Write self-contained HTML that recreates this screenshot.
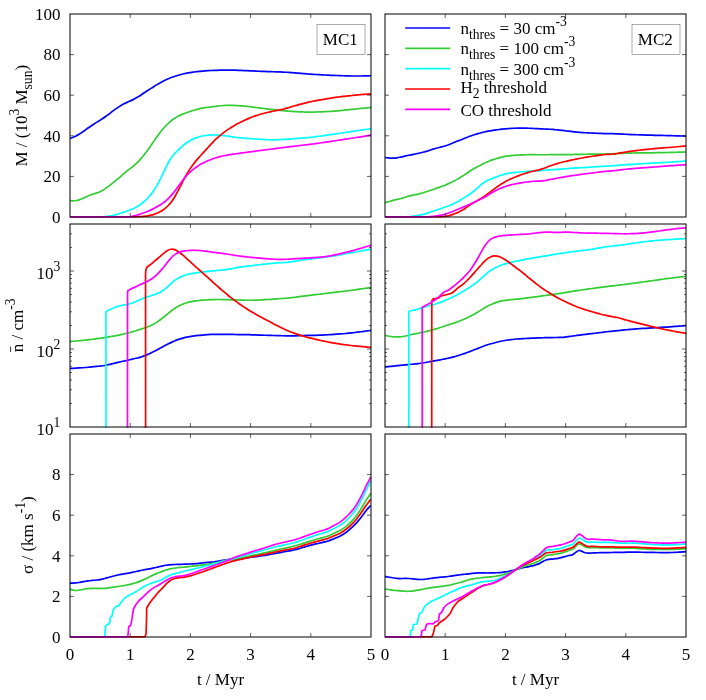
<!DOCTYPE html>
<html><head><meta charset="utf-8"><title>fig</title><style>html,body{margin:0;padding:0;background:#fff}svg{display:block}</style></head><body><svg width="706" height="700" viewBox="0 0 706 700">
<defs>
<clipPath id="c00"><rect x="69.5" y="13.5" width="302" height="204.3"/></clipPath>
<clipPath id="c10"><rect x="69.5" y="223.5" width="302" height="204.3"/></clipPath>
<clipPath id="c20"><rect x="69.5" y="433.5" width="302" height="204.3"/></clipPath>
<clipPath id="c01"><rect x="384.5" y="13.5" width="302" height="204.3"/></clipPath>
<clipPath id="c11"><rect x="384.5" y="223.5" width="302" height="204.3"/></clipPath>
<clipPath id="c21"><rect x="384.5" y="433.5" width="302" height="204.3"/></clipPath>
</defs>
<rect width="706" height="700" fill="#fff"/>
<g clip-path="url(#c00)" fill="none" stroke-width="1.7" stroke-linejoin="round" stroke-linecap="butt">
<path stroke="#0000ff" d="M70.04,138.47C70.54,138.27 72.04,137.70 73.04,137.27C74.04,136.84 75.04,136.39 76.04,135.89C77.04,135.39 78.04,134.84 79.04,134.26C80.04,133.67 81.04,133.03 82.04,132.36C83.04,131.69 84.04,130.94 85.04,130.23C86.04,129.51 87.04,128.76 88.04,128.06C89.04,127.35 90.04,126.67 91.04,125.99C92.04,125.32 93.04,124.66 94.04,124.02C95.04,123.37 96.04,122.74 97.04,122.11C98.04,121.48 99.04,120.88 100.04,120.25C101.04,119.61 102.04,118.98 103.04,118.31C104.04,117.65 105.04,116.95 106.04,116.23C107.04,115.51 108.04,114.74 109.04,113.98C110.04,113.22 111.04,112.42 112.04,111.66C113.04,110.90 114.04,110.14 115.04,109.42C116.04,108.70 117.04,108.01 118.04,107.36C119.04,106.71 120.04,106.09 121.04,105.51C122.04,104.92 123.04,104.37 124.04,103.85C125.04,103.33 126.04,102.84 127.04,102.37C128.04,101.89 129.04,101.47 130.04,101.01C131.04,100.55 132.04,100.12 133.04,99.62C134.04,99.12 135.04,98.59 136.04,98.03C137.04,97.47 138.04,96.86 139.04,96.25C140.04,95.63 141.04,94.97 142.04,94.32C143.04,93.67 144.04,92.99 145.04,92.32C146.04,91.65 147.04,90.98 148.04,90.32C149.04,89.66 150.04,89.00 151.04,88.36C152.04,87.71 153.04,87.07 154.04,86.45C155.04,85.83 156.04,85.22 157.04,84.63C158.04,84.04 159.04,83.47 160.04,82.92C161.04,82.37 162.04,81.83 163.04,81.32C164.04,80.81 165.04,80.32 166.04,79.85C167.04,79.39 168.04,78.94 169.04,78.52C170.04,78.10 171.04,77.70 172.04,77.32C173.04,76.94 174.04,76.58 175.04,76.24C176.04,75.91 177.04,75.59 178.04,75.30C179.04,75.00 180.04,74.73 181.04,74.47C182.04,74.22 183.04,73.98 184.04,73.76C185.04,73.54 186.04,73.34 187.04,73.16C188.04,72.97 189.04,72.80 190.04,72.63C191.04,72.47 192.04,72.31 193.04,72.16C194.04,72.02 195.04,71.88 196.04,71.75C197.04,71.62 198.04,71.51 199.04,71.40C200.04,71.29 201.04,71.19 202.04,71.10C203.04,71.01 204.04,70.93 205.04,70.85C206.04,70.78 207.04,70.72 208.04,70.66C209.04,70.60 210.04,70.55 211.04,70.50C212.04,70.46 213.04,70.42 214.04,70.38C215.04,70.35 216.04,70.32 217.04,70.29C218.04,70.26 219.04,70.24 220.04,70.22C221.04,70.20 222.04,70.18 223.04,70.16C224.04,70.15 225.04,70.13 226.04,70.13C227.04,70.12 228.04,70.11 229.04,70.11C230.04,70.11 231.04,70.12 232.04,70.13C233.04,70.15 234.04,70.17 235.04,70.20C236.04,70.22 237.04,70.26 238.04,70.30C239.04,70.34 240.04,70.38 241.04,70.42C242.04,70.46 243.04,70.50 244.04,70.55C245.04,70.59 246.04,70.62 247.04,70.67C248.04,70.71 249.04,70.75 250.04,70.80C251.04,70.85 252.04,70.90 253.04,70.96C254.04,71.01 255.04,71.06 256.04,71.12C257.04,71.17 258.04,71.22 259.04,71.26C260.04,71.30 261.04,71.34 262.04,71.38C263.04,71.41 264.04,71.44 265.04,71.47C266.04,71.51 267.04,71.53 268.04,71.56C269.04,71.59 270.04,71.62 271.04,71.64C272.04,71.67 273.04,71.70 274.04,71.73C275.04,71.76 276.04,71.80 277.04,71.83C278.04,71.87 279.04,71.91 280.04,71.96C281.04,72.00 282.04,72.05 283.04,72.10C284.04,72.15 285.04,72.21 286.04,72.27C287.04,72.33 288.04,72.40 289.04,72.47C290.04,72.54 291.04,72.62 292.04,72.69C293.04,72.77 294.04,72.85 295.04,72.93C296.04,73.01 297.04,73.09 298.04,73.17C299.04,73.25 300.04,73.33 301.04,73.42C302.04,73.50 303.04,73.58 304.04,73.66C305.04,73.74 306.04,73.82 307.04,73.90C308.04,73.97 309.04,74.05 310.04,74.12C311.04,74.19 312.04,74.26 313.04,74.32C314.04,74.39 315.04,74.45 316.04,74.51C317.04,74.57 318.04,74.63 319.04,74.69C320.04,74.75 321.04,74.81 322.04,74.86C323.04,74.92 324.04,74.97 325.04,75.02C326.04,75.07 327.04,75.11 328.04,75.15C329.04,75.20 330.04,75.24 331.04,75.28C332.04,75.32 333.04,75.35 334.04,75.39C335.04,75.43 336.04,75.47 337.04,75.51C338.04,75.55 339.04,75.60 340.04,75.64C341.04,75.68 342.04,75.72 343.04,75.75C344.04,75.79 345.04,75.83 346.04,75.86C347.04,75.89 348.04,75.91 349.04,75.93C350.04,75.95 351.04,75.97 352.04,75.98C353.04,76.00 354.04,76.00 355.04,76.01C356.04,76.01 357.04,76.01 358.04,76.01C359.04,76.00 360.04,75.99 361.04,75.98C362.04,75.97 363.04,75.95 364.04,75.93C365.04,75.91 366.04,75.88 367.04,75.85C368.04,75.82 369.37,75.78 370.04,75.76C370.71,75.74 370.87,75.73 371.03,75.72"/>
<path stroke="#32cd32" d="M70.12,200.62C70.62,200.65 72.12,200.80 73.12,200.79C74.12,200.77 75.12,200.68 76.12,200.53C77.12,200.37 78.12,200.14 79.12,199.85C80.12,199.57 81.12,199.22 82.12,198.80C83.12,198.39 84.12,197.86 85.12,197.38C86.12,196.90 87.12,196.36 88.12,195.91C89.12,195.46 90.12,195.05 91.12,194.69C92.12,194.32 93.12,194.02 94.12,193.71C95.12,193.40 96.12,193.15 97.12,192.82C98.12,192.49 99.12,192.17 100.12,191.72C101.12,191.26 102.12,190.69 103.12,190.08C104.12,189.47 105.12,188.74 106.12,188.05C107.12,187.36 108.12,186.65 109.12,185.91C110.12,185.18 111.12,184.43 112.12,183.65C113.12,182.86 114.12,182.04 115.12,181.21C116.12,180.37 117.12,179.51 118.12,178.64C119.12,177.78 120.12,176.90 121.12,176.02C122.12,175.15 123.12,174.27 124.12,173.41C125.12,172.56 126.12,171.71 127.12,170.91C128.12,170.11 129.12,169.37 130.12,168.61C131.12,167.85 132.12,167.15 133.12,166.34C134.12,165.53 135.12,164.68 136.12,163.74C137.12,162.80 138.12,161.77 139.12,160.69C140.12,159.60 141.12,158.44 142.12,157.25C143.12,156.06 144.12,154.82 145.12,153.54C146.12,152.26 147.12,150.95 148.12,149.57C149.12,148.19 150.12,146.73 151.12,145.28C152.12,143.83 153.12,142.31 154.12,140.86C155.12,139.40 156.12,137.94 157.12,136.55C158.12,135.16 159.12,133.80 160.12,132.51C161.12,131.22 162.12,129.99 163.12,128.81C164.12,127.64 165.12,126.52 166.12,125.47C167.12,124.42 168.12,123.43 169.12,122.53C170.12,121.63 171.12,120.80 172.12,120.05C173.12,119.29 174.12,118.63 175.12,118.00C176.12,117.38 177.12,116.83 178.12,116.31C179.12,115.79 180.12,115.32 181.12,114.87C182.12,114.42 183.12,114.01 184.12,113.63C185.12,113.24 186.12,112.89 187.12,112.53C188.12,112.18 189.12,111.85 190.12,111.52C191.12,111.18 192.12,110.83 193.12,110.51C194.12,110.19 195.12,109.87 196.12,109.59C197.12,109.30 198.12,109.04 199.12,108.80C200.12,108.57 201.12,108.35 202.12,108.15C203.12,107.96 204.12,107.79 205.12,107.63C206.12,107.48 207.12,107.35 208.12,107.22C209.12,107.09 210.12,106.97 211.12,106.85C212.12,106.73 213.12,106.60 214.12,106.48C215.12,106.36 216.12,106.23 217.12,106.11C218.12,105.99 219.12,105.88 220.12,105.77C221.12,105.67 222.12,105.58 223.12,105.50C224.12,105.43 225.12,105.36 226.12,105.33C227.12,105.29 228.12,105.27 229.12,105.27C230.12,105.27 231.12,105.31 232.12,105.34C233.12,105.38 234.12,105.45 235.12,105.50C236.12,105.56 237.12,105.62 238.12,105.69C239.12,105.76 240.12,105.82 241.12,105.90C242.12,105.97 243.12,106.05 244.12,106.14C245.12,106.23 246.12,106.32 247.12,106.42C248.12,106.52 249.12,106.62 250.12,106.73C251.12,106.84 252.12,106.96 253.12,107.08C254.12,107.20 255.12,107.33 256.12,107.47C257.12,107.60 258.12,107.74 259.12,107.88C260.12,108.02 261.12,108.16 262.12,108.30C263.12,108.43 264.12,108.57 265.12,108.70C266.12,108.83 267.12,108.95 268.12,109.07C269.12,109.18 270.12,109.29 271.12,109.40C272.12,109.51 273.12,109.61 274.12,109.72C275.12,109.83 276.12,109.93 277.12,110.04C278.12,110.14 279.12,110.25 280.12,110.36C281.12,110.46 282.12,110.57 283.12,110.67C284.12,110.78 285.12,110.88 286.12,110.97C287.12,111.07 288.12,111.16 289.12,111.24C290.12,111.32 291.12,111.39 292.12,111.46C293.12,111.52 294.12,111.58 295.12,111.63C296.12,111.69 297.12,111.73 298.12,111.78C299.12,111.82 300.12,111.86 301.12,111.90C302.12,111.93 303.12,111.97 304.12,112.00C305.12,112.02 306.12,112.05 307.12,112.07C308.12,112.08 309.12,112.09 310.12,112.09C311.12,112.10 312.12,112.09 313.12,112.07C314.12,112.06 315.12,112.04 316.12,112.01C317.12,111.99 318.12,111.95 319.12,111.92C320.12,111.88 321.12,111.84 322.12,111.80C323.12,111.76 324.12,111.71 325.12,111.66C326.12,111.61 327.12,111.55 328.12,111.49C329.12,111.43 330.12,111.37 331.12,111.30C332.12,111.23 333.12,111.16 334.12,111.08C335.12,111.00 336.12,110.92 337.12,110.84C338.12,110.75 339.12,110.66 340.12,110.57C341.12,110.47 342.12,110.37 343.12,110.27C344.12,110.17 345.12,110.07 346.12,109.97C347.12,109.87 348.12,109.77 349.12,109.67C350.12,109.57 351.12,109.47 352.12,109.37C353.12,109.27 354.12,109.17 355.12,109.07C356.12,108.97 357.12,108.87 358.12,108.77C359.12,108.67 360.12,108.57 361.12,108.47C362.12,108.37 363.12,108.27 364.12,108.17C365.12,108.07 366.12,107.97 367.12,107.86C368.12,107.76 369.47,107.62 370.12,107.55C370.78,107.49 370.88,107.47 371.03,107.45"/>
<path stroke="#00ffff" d="M70.00,216.80L103.41,216.91C103.91,216.84 105.41,216.61 106.41,216.46C107.41,216.31 108.41,216.16 109.41,215.99C110.41,215.82 111.41,215.66 112.41,215.46C113.41,215.27 114.41,215.06 115.41,214.81C116.41,214.57 117.41,214.29 118.41,214.00C119.41,213.70 120.41,213.37 121.41,213.04C122.41,212.70 123.41,212.34 124.41,211.98C125.41,211.62 126.41,211.24 127.41,210.87C128.41,210.49 129.41,210.12 130.41,209.73C131.41,209.33 132.41,208.94 133.41,208.49C134.41,208.04 135.41,207.58 136.41,207.04C137.41,206.50 138.41,205.91 139.41,205.24C140.41,204.57 141.41,203.83 142.41,203.04C143.41,202.24 144.41,201.39 145.41,200.46C146.41,199.53 147.41,198.56 148.41,197.46C149.41,196.36 150.41,195.18 151.41,193.87C152.41,192.55 153.41,191.12 154.41,189.57C155.41,188.01 156.41,186.33 157.41,184.54C158.41,182.74 159.41,180.79 160.41,178.79C161.41,176.79 162.41,174.61 163.41,172.53C164.41,170.45 165.41,168.26 166.41,166.29C167.41,164.33 168.41,162.40 169.41,160.74C170.41,159.07 171.41,157.61 172.41,156.30C173.41,154.99 174.41,153.93 175.41,152.88C176.41,151.82 177.41,150.91 178.41,149.95C179.41,149.00 180.41,148.06 181.41,147.16C182.41,146.25 183.41,145.34 184.41,144.52C185.41,143.71 186.41,142.94 187.41,142.26C188.41,141.57 189.41,140.96 190.41,140.39C191.41,139.83 192.41,139.32 193.41,138.87C194.41,138.41 195.41,138.01 196.41,137.66C197.41,137.30 198.41,137.01 199.41,136.74C200.41,136.47 201.41,136.24 202.41,136.04C203.41,135.83 204.41,135.65 205.41,135.50C206.41,135.36 207.41,135.23 208.41,135.14C209.41,135.06 210.41,135.01 211.41,134.98C212.41,134.96 213.41,134.97 214.41,134.99C215.41,135.02 216.41,135.05 217.41,135.11C218.41,135.16 219.41,135.22 220.41,135.31C221.41,135.40 222.41,135.50 223.41,135.62C224.41,135.73 225.41,135.87 226.41,136.00C227.41,136.14 228.41,136.28 229.41,136.42C230.41,136.56 231.41,136.70 232.41,136.84C233.41,136.97 234.41,137.11 235.41,137.23C236.41,137.36 237.41,137.48 238.41,137.59C239.41,137.70 240.41,137.80 241.41,137.90C242.41,137.99 243.41,138.07 244.41,138.15C245.41,138.24 246.41,138.31 247.41,138.39C248.41,138.47 249.41,138.56 250.41,138.63C251.41,138.71 252.41,138.79 253.41,138.87C254.41,138.94 255.41,139.01 256.41,139.08C257.41,139.14 258.41,139.21 259.41,139.27C260.41,139.33 261.41,139.39 262.41,139.44C263.41,139.50 264.41,139.55 265.41,139.60C266.41,139.65 267.41,139.70 268.41,139.73C269.41,139.77 270.41,139.81 271.41,139.82C272.41,139.83 273.41,139.83 274.41,139.82C275.41,139.80 276.41,139.76 277.41,139.71C278.41,139.67 279.41,139.61 280.41,139.56C281.41,139.52 282.41,139.47 283.41,139.42C284.41,139.37 285.41,139.34 286.41,139.29C287.41,139.24 288.41,139.19 289.41,139.13C290.41,139.07 291.41,139.00 292.41,138.92C293.41,138.85 294.41,138.77 295.41,138.69C296.41,138.61 297.41,138.53 298.41,138.44C299.41,138.36 300.41,138.28 301.41,138.20C302.41,138.11 303.41,138.02 304.41,137.93C305.41,137.84 306.41,137.74 307.41,137.64C308.41,137.54 309.41,137.43 310.41,137.32C311.41,137.21 312.41,137.10 313.41,136.98C314.41,136.86 315.41,136.74 316.41,136.61C317.41,136.48 318.41,136.35 319.41,136.22C320.41,136.08 321.41,135.94 322.41,135.80C323.41,135.66 324.41,135.52 325.41,135.38C326.41,135.24 327.41,135.10 328.41,134.96C329.41,134.82 330.41,134.68 331.41,134.54C332.41,134.40 333.41,134.26 334.41,134.12C335.41,133.98 336.41,133.84 337.41,133.69C338.41,133.55 339.41,133.40 340.41,133.24C341.41,133.09 342.41,132.93 343.41,132.77C344.41,132.61 345.41,132.45 346.41,132.28C347.41,132.12 348.41,131.96 349.41,131.80C350.41,131.65 351.41,131.49 352.41,131.34C353.41,131.19 354.41,131.04 355.41,130.90C356.41,130.75 357.41,130.61 358.41,130.47C359.41,130.33 360.41,130.19 361.41,130.05C362.41,129.92 363.41,129.77 364.41,129.64C365.41,129.50 366.41,129.36 367.41,129.22C368.41,129.09 369.81,128.91 370.41,128.83C371.01,128.74 370.93,128.72 371.03,128.70"/>
<path stroke="#ff0000" d="M70.00,216.80L135.99,216.91C136.49,216.88 137.99,216.77 138.99,216.69C139.99,216.62 140.99,216.56 141.99,216.48C142.99,216.40 143.99,216.32 144.99,216.21C145.99,216.09 146.99,215.96 147.99,215.79C148.99,215.62 149.99,215.43 150.99,215.19C151.99,214.96 152.99,214.70 153.99,214.37C154.99,214.05 155.99,213.69 156.99,213.27C157.99,212.85 158.99,212.38 159.99,211.83C160.99,211.29 161.99,210.70 162.99,210.01C163.99,209.32 164.99,208.57 165.99,207.69C166.99,206.82 167.99,205.86 168.99,204.76C169.99,203.65 170.99,202.45 171.99,201.06C172.99,199.68 173.99,198.13 174.99,196.45C175.99,194.77 176.99,192.87 177.99,190.97C178.99,189.07 179.99,187.01 180.99,185.04C181.99,183.08 182.99,181.06 183.99,179.18C184.99,177.29 185.99,175.44 186.99,173.73C187.99,172.02 188.99,170.40 189.99,168.89C190.99,167.38 191.99,166.00 192.99,164.66C193.99,163.32 194.99,162.07 195.99,160.85C196.99,159.63 197.99,158.46 198.99,157.32C199.99,156.19 200.99,155.13 201.99,154.05C202.99,152.96 203.99,151.92 204.99,150.83C205.99,149.73 206.99,148.59 207.99,147.47C208.99,146.36 209.99,145.21 210.99,144.14C211.99,143.08 212.99,142.05 213.99,141.07C214.99,140.08 215.99,139.15 216.99,138.24C217.99,137.32 218.99,136.44 219.99,135.60C220.99,134.75 221.99,133.93 222.99,133.15C223.99,132.37 224.99,131.63 225.99,130.92C226.99,130.21 227.99,129.55 228.99,128.90C229.99,128.25 230.99,127.63 231.99,127.02C232.99,126.42 233.99,125.83 234.99,125.26C235.99,124.69 236.99,124.14 237.99,123.60C238.99,123.06 239.99,122.53 240.99,122.02C241.99,121.51 242.99,121.01 243.99,120.53C244.99,120.05 245.99,119.59 246.99,119.15C247.99,118.70 248.99,118.28 249.99,117.88C250.99,117.48 251.99,117.10 252.99,116.73C253.99,116.36 254.99,116.01 255.99,115.67C256.99,115.33 257.99,115.00 258.99,114.69C259.99,114.37 260.99,114.08 261.99,113.80C262.99,113.53 263.99,113.27 264.99,113.02C265.99,112.76 266.99,112.52 267.99,112.28C268.99,112.05 269.99,111.81 270.99,111.59C271.99,111.37 272.99,111.17 273.99,110.98C274.99,110.78 275.99,110.62 276.99,110.44C277.99,110.26 278.99,110.10 279.99,109.90C280.99,109.70 281.99,109.49 282.99,109.24C283.99,109.00 284.99,108.71 285.99,108.42C286.99,108.14 287.99,107.82 288.99,107.52C289.99,107.21 290.99,106.90 291.99,106.60C292.99,106.30 293.99,106.00 294.99,105.72C295.99,105.43 296.99,105.15 297.99,104.88C298.99,104.61 299.99,104.34 300.99,104.09C301.99,103.83 302.99,103.58 303.99,103.33C304.99,103.08 305.99,102.84 306.99,102.60C307.99,102.36 308.99,102.13 309.99,101.91C310.99,101.69 311.99,101.47 312.99,101.27C313.99,101.06 314.99,100.86 315.99,100.67C316.99,100.47 317.99,100.28 318.99,100.10C319.99,99.91 320.99,99.73 321.99,99.56C322.99,99.38 323.99,99.20 324.99,99.04C325.99,98.87 326.99,98.70 327.99,98.54C328.99,98.38 329.99,98.23 330.99,98.07C331.99,97.92 332.99,97.77 333.99,97.63C334.99,97.49 335.99,97.35 336.99,97.21C337.99,97.08 338.99,96.95 339.99,96.82C340.99,96.69 341.99,96.57 342.99,96.46C343.99,96.34 344.99,96.22 345.99,96.12C346.99,96.01 347.99,95.90 348.99,95.80C349.99,95.70 350.99,95.60 351.99,95.50C352.99,95.40 353.99,95.30 354.99,95.20C355.99,95.10 356.99,95.00 357.99,94.90C358.99,94.81 359.99,94.72 360.99,94.63C361.99,94.54 362.99,94.46 363.99,94.38C364.99,94.30 365.99,94.22 366.99,94.15C367.99,94.08 369.31,94.01 369.99,93.96C370.66,93.91 370.86,93.87 371.03,93.85"/>
<path stroke="#ff00ff" d="M70.00,216.80L128.20,216.91C128.70,216.84 130.20,216.67 131.20,216.50C132.20,216.33 133.20,216.15 134.20,215.91C135.20,215.67 136.20,215.37 137.20,215.06C138.20,214.74 139.20,214.38 140.20,214.04C141.20,213.70 142.20,213.37 143.20,213.03C144.20,212.68 145.20,212.35 146.20,211.97C147.20,211.59 148.20,211.20 149.20,210.76C150.20,210.33 151.20,209.86 152.20,209.37C153.20,208.88 154.20,208.35 155.20,207.80C156.20,207.25 157.20,206.68 158.20,206.09C159.20,205.50 160.20,204.93 161.20,204.28C162.20,203.64 163.20,203.01 164.20,202.24C165.20,201.48 166.20,200.64 167.20,199.70C168.20,198.76 169.20,197.71 170.20,196.61C171.20,195.51 172.20,194.33 173.20,193.10C174.20,191.87 175.20,190.56 176.20,189.23C177.20,187.90 178.20,186.49 179.20,185.11C180.20,183.73 181.20,182.30 182.20,180.97C183.20,179.64 184.20,178.33 185.20,177.15C186.20,175.97 187.20,174.89 188.20,173.88C189.20,172.88 190.20,171.99 191.20,171.12C192.20,170.26 193.20,169.46 194.20,168.69C195.20,167.92 196.20,167.19 197.20,166.50C198.20,165.82 199.20,165.17 200.20,164.58C201.20,163.99 202.20,163.46 203.20,162.95C204.20,162.44 205.20,161.98 206.20,161.53C207.20,161.08 208.20,160.64 209.20,160.22C210.20,159.81 211.20,159.40 212.20,159.03C213.20,158.65 214.20,158.30 215.20,157.98C216.20,157.65 217.20,157.37 218.20,157.10C219.20,156.83 220.20,156.59 221.20,156.37C222.20,156.14 223.20,155.93 224.20,155.72C225.20,155.52 226.20,155.33 227.20,155.15C228.20,154.96 229.20,154.79 230.20,154.63C231.20,154.46 232.20,154.31 233.20,154.16C234.20,154.01 235.20,153.86 236.20,153.72C237.20,153.58 238.20,153.44 239.20,153.30C240.20,153.16 241.20,153.02 242.20,152.88C243.20,152.75 244.20,152.62 245.20,152.49C246.20,152.36 247.20,152.23 248.20,152.11C249.20,151.98 250.20,151.85 251.20,151.72C252.20,151.59 253.20,151.45 254.20,151.31C255.20,151.17 256.20,151.03 257.20,150.89C258.20,150.75 259.20,150.61 260.20,150.48C261.20,150.35 262.20,150.21 263.20,150.09C264.20,149.97 265.20,149.85 266.20,149.73C267.20,149.62 268.20,149.51 269.20,149.39C270.20,149.28 271.20,149.15 272.20,149.02C273.20,148.88 274.20,148.72 275.20,148.58C276.20,148.43 277.20,148.29 278.20,148.15C279.20,148.02 280.20,147.90 281.20,147.78C282.20,147.66 283.20,147.54 284.20,147.42C285.20,147.30 286.20,147.18 287.20,147.06C288.20,146.94 289.20,146.82 290.20,146.70C291.20,146.58 292.20,146.46 293.20,146.34C294.20,146.22 295.20,146.10 296.20,145.98C297.20,145.86 298.20,145.74 299.20,145.62C300.20,145.50 301.20,145.38 302.20,145.26C303.20,145.14 304.20,145.02 305.20,144.90C306.20,144.78 307.20,144.66 308.20,144.54C309.20,144.43 310.20,144.31 311.20,144.19C312.20,144.07 313.20,143.95 314.20,143.83C315.20,143.70 316.20,143.57 317.20,143.43C318.20,143.29 319.20,143.14 320.20,142.99C321.20,142.84 322.20,142.68 323.20,142.53C324.20,142.38 325.20,142.22 326.20,142.08C327.20,141.93 328.20,141.79 329.20,141.64C330.20,141.50 331.20,141.35 332.20,141.20C333.20,141.05 334.20,140.89 335.20,140.74C336.20,140.58 337.20,140.42 338.20,140.27C339.20,140.12 340.20,139.98 341.20,139.83C342.20,139.68 343.20,139.54 344.20,139.40C345.20,139.25 346.20,139.10 347.20,138.95C348.20,138.80 349.20,138.64 350.20,138.48C351.20,138.32 352.20,138.16 353.20,138.00C354.20,137.84 355.20,137.68 356.20,137.52C357.20,137.36 358.20,137.20 359.20,137.04C360.20,136.88 361.20,136.72 362.20,136.56C363.20,136.40 364.20,136.24 365.20,136.07C366.20,135.91 367.23,135.74 368.20,135.58C369.17,135.41 370.56,135.16 371.03,135.07"/>
</g>
<g clip-path="url(#c01)" fill="none" stroke-width="1.7" stroke-linejoin="round" stroke-linecap="butt">
<path stroke="#0000ff" d="M385.04,157.49C385.54,157.55 387.04,157.73 388.04,157.83C389.04,157.93 390.04,158.03 391.04,158.08C392.04,158.12 393.04,158.16 394.04,158.12C395.04,158.08 396.04,158.00 397.04,157.86C398.04,157.72 399.04,157.50 400.04,157.28C401.04,157.07 402.04,156.79 403.04,156.55C404.04,156.31 405.04,156.07 406.04,155.85C407.04,155.63 408.04,155.43 409.04,155.23C410.04,155.02 411.04,154.83 412.04,154.63C413.04,154.43 414.04,154.24 415.04,154.04C416.04,153.83 417.04,153.64 418.04,153.43C419.04,153.21 420.04,153.00 421.04,152.76C422.04,152.52 423.04,152.27 424.04,152.00C425.04,151.72 426.04,151.42 427.04,151.11C428.04,150.81 429.04,150.47 430.04,150.15C431.04,149.83 432.04,149.49 433.04,149.18C434.04,148.87 435.04,148.57 436.04,148.29C437.04,148.01 438.04,147.74 439.04,147.48C440.04,147.23 441.04,146.99 442.04,146.74C443.04,146.49 444.04,146.25 445.04,145.96C446.04,145.67 447.04,145.36 448.04,145.00C449.04,144.64 450.04,144.22 451.04,143.80C452.04,143.39 453.04,142.93 454.04,142.51C455.04,142.09 456.04,141.68 457.04,141.29C458.04,140.90 459.04,140.56 460.04,140.18C461.04,139.80 462.04,139.42 463.04,139.02C464.04,138.62 465.04,138.19 466.04,137.77C467.04,137.36 468.04,136.94 469.04,136.55C470.04,136.16 471.04,135.78 472.04,135.43C473.04,135.08 474.04,134.76 475.04,134.45C476.04,134.14 477.04,133.85 478.04,133.57C479.04,133.29 480.04,133.02 481.04,132.76C482.04,132.51 483.04,132.25 484.04,132.02C485.04,131.79 486.04,131.56 487.04,131.36C488.04,131.16 489.04,130.98 490.04,130.81C491.04,130.64 492.04,130.49 493.04,130.34C494.04,130.19 495.04,130.04 496.04,129.90C497.04,129.76 498.04,129.62 499.04,129.50C500.04,129.37 501.04,129.26 502.04,129.15C503.04,129.05 504.04,128.96 505.04,128.87C506.04,128.78 507.04,128.70 508.04,128.62C509.04,128.55 510.04,128.48 511.04,128.41C512.04,128.35 513.04,128.28 514.04,128.23C515.04,128.18 516.04,128.14 517.04,128.11C518.04,128.08 519.04,128.07 520.04,128.06C521.04,128.06 522.04,128.06 523.04,128.07C524.04,128.09 525.04,128.11 526.04,128.14C527.04,128.16 528.04,128.20 529.04,128.24C530.04,128.28 531.04,128.32 532.04,128.37C533.04,128.42 534.04,128.48 535.04,128.54C536.04,128.60 537.04,128.66 538.04,128.71C539.04,128.77 540.04,128.81 541.04,128.86C542.04,128.90 543.04,128.94 544.04,128.98C545.04,129.02 546.04,129.06 547.04,129.10C548.04,129.15 549.04,129.20 550.04,129.26C551.04,129.32 552.04,129.39 553.04,129.47C554.04,129.55 555.04,129.64 556.04,129.74C557.04,129.83 558.04,129.94 559.04,130.04C560.04,130.15 561.04,130.26 562.04,130.38C563.04,130.49 564.04,130.61 565.04,130.73C566.04,130.85 567.04,130.97 568.04,131.09C569.04,131.21 570.04,131.34 571.04,131.45C572.04,131.57 573.04,131.68 574.04,131.78C575.04,131.88 576.04,131.98 577.04,132.07C578.04,132.16 579.04,132.24 580.04,132.32C581.04,132.40 582.04,132.47 583.04,132.54C584.04,132.61 585.04,132.68 586.04,132.74C587.04,132.80 588.04,132.85 589.04,132.91C590.04,132.96 591.04,133.01 592.04,133.06C593.04,133.11 594.04,133.15 595.04,133.20C596.04,133.24 597.04,133.29 598.04,133.33C599.04,133.38 600.04,133.42 601.04,133.46C602.04,133.50 603.04,133.54 604.04,133.57C605.04,133.60 606.04,133.61 607.04,133.62C608.04,133.63 609.04,133.61 610.04,133.62C611.04,133.62 612.04,133.64 613.04,133.66C614.04,133.69 615.04,133.74 616.04,133.79C617.04,133.84 618.04,133.89 619.04,133.94C620.04,134.00 621.04,134.05 622.04,134.10C623.04,134.15 624.04,134.21 625.04,134.26C626.04,134.31 627.04,134.36 628.04,134.41C629.04,134.46 630.04,134.51 631.04,134.55C632.04,134.59 633.04,134.63 634.04,134.67C635.04,134.71 636.04,134.74 637.04,134.77C638.04,134.80 639.04,134.83 640.04,134.86C641.04,134.89 642.04,134.92 643.04,134.95C644.04,134.98 645.04,135.01 646.04,135.04C647.04,135.07 648.04,135.10 649.04,135.13C650.04,135.16 651.04,135.19 652.04,135.22C653.04,135.24 654.04,135.27 655.04,135.30C656.04,135.32 657.04,135.34 658.04,135.37C659.04,135.39 660.04,135.41 661.04,135.43C662.04,135.45 663.04,135.46 664.04,135.49C665.04,135.51 666.04,135.53 667.04,135.56C668.04,135.58 669.04,135.61 670.04,135.64C671.04,135.66 672.04,135.70 673.04,135.73C674.04,135.76 675.04,135.79 676.04,135.82C677.04,135.85 678.04,135.88 679.04,135.91C680.04,135.94 681.04,135.97 682.04,135.99C683.04,136.02 684.39,136.06 685.04,136.08C685.69,136.10 685.77,136.10 685.92,136.10"/>
<path stroke="#32cd32" d="M385.04,202.73C385.54,202.59 387.04,202.16 388.04,201.87C389.04,201.58 390.04,201.27 391.04,200.99C392.04,200.70 393.04,200.40 394.04,200.14C395.04,199.87 396.04,199.64 397.04,199.41C398.04,199.18 399.04,198.98 400.04,198.73C401.04,198.47 402.04,198.18 403.04,197.89C404.04,197.59 405.04,197.25 406.04,196.96C407.04,196.66 408.04,196.37 409.04,196.12C410.04,195.86 411.04,195.63 412.04,195.41C413.04,195.19 414.04,194.99 415.04,194.77C416.04,194.55 417.04,194.35 418.04,194.11C419.04,193.87 420.04,193.62 421.04,193.35C422.04,193.07 423.04,192.77 424.04,192.47C425.04,192.16 426.04,191.83 427.04,191.50C428.04,191.17 429.04,190.83 430.04,190.49C431.04,190.15 432.04,189.81 433.04,189.46C434.04,189.12 435.04,188.77 436.04,188.42C437.04,188.07 438.04,187.71 439.04,187.36C440.04,187.01 441.04,186.67 442.04,186.30C443.04,185.94 444.04,185.57 445.04,185.17C446.04,184.76 447.04,184.33 448.04,183.88C449.04,183.43 450.04,182.95 451.04,182.47C452.04,181.98 453.04,181.48 454.04,180.96C455.04,180.45 456.04,179.93 457.04,179.38C458.04,178.83 459.04,178.26 460.04,177.66C461.04,177.06 462.04,176.42 463.04,175.77C464.04,175.12 465.04,174.43 466.04,173.75C467.04,173.08 468.04,172.38 469.04,171.73C470.04,171.07 471.04,170.42 472.04,169.81C473.04,169.20 474.04,168.63 475.04,168.07C476.04,167.52 477.04,167.00 478.04,166.47C479.04,165.94 480.04,165.41 481.04,164.89C482.04,164.37 483.04,163.83 484.04,163.34C485.04,162.84 486.04,162.36 487.04,161.93C488.04,161.49 489.04,161.10 490.04,160.72C491.04,160.34 492.04,160.00 493.04,159.67C494.04,159.33 495.04,159.01 496.04,158.70C497.04,158.40 498.04,158.10 499.04,157.82C500.04,157.54 501.04,157.28 502.04,157.05C503.04,156.81 504.04,156.60 505.04,156.41C506.04,156.22 507.04,156.05 508.04,155.91C509.04,155.76 510.04,155.64 511.04,155.54C512.04,155.43 513.04,155.36 514.04,155.28C515.04,155.21 516.04,155.15 517.04,155.10C518.04,155.04 519.04,155.00 520.04,154.95C521.04,154.91 522.04,154.87 523.04,154.84C524.04,154.81 525.04,154.78 526.04,154.76C527.04,154.74 528.04,154.73 529.04,154.72C530.04,154.71 531.04,154.71 532.04,154.71C533.04,154.71 534.04,154.71 535.04,154.72C536.04,154.73 537.04,154.74 538.04,154.75C539.04,154.76 540.04,154.77 541.04,154.77C542.04,154.77 543.04,154.76 544.04,154.75C545.04,154.75 546.04,154.74 547.04,154.73C548.04,154.72 549.04,154.71 550.04,154.70C551.04,154.70 552.04,154.69 553.04,154.69C554.04,154.69 555.04,154.69 556.04,154.69C557.04,154.69 558.04,154.70 559.04,154.69C560.04,154.69 561.04,154.69 562.04,154.68C563.04,154.67 564.04,154.66 565.04,154.64C566.04,154.63 567.04,154.61 568.04,154.59C569.04,154.57 570.04,154.55 571.04,154.53C572.04,154.51 573.04,154.48 574.04,154.46C575.04,154.44 576.04,154.42 577.04,154.40C578.04,154.38 579.04,154.36 580.04,154.34C581.04,154.32 582.04,154.30 583.04,154.28C584.04,154.26 585.04,154.25 586.04,154.23C587.04,154.22 588.04,154.21 589.04,154.20C590.04,154.19 591.04,154.18 592.04,154.17C593.04,154.16 594.04,154.15 595.04,154.14C596.04,154.12 597.04,154.11 598.04,154.09C599.04,154.08 600.04,154.06 601.04,154.04C602.04,154.02 603.04,154.00 604.04,153.98C605.04,153.96 606.04,153.94 607.04,153.92C608.04,153.90 609.04,153.88 610.04,153.85C611.04,153.81 612.04,153.77 613.04,153.73C614.04,153.69 615.04,153.63 616.04,153.59C617.04,153.54 618.04,153.49 619.04,153.44C620.04,153.39 621.04,153.35 622.04,153.31C623.04,153.27 624.04,153.23 625.04,153.20C626.04,153.17 627.04,153.14 628.04,153.11C629.04,153.08 630.04,153.05 631.04,153.03C632.04,153.01 633.04,152.99 634.04,152.98C635.04,152.96 636.04,152.95 637.04,152.93C638.04,152.92 639.04,152.92 640.04,152.91C641.04,152.90 642.04,152.89 643.04,152.88C644.04,152.87 645.04,152.87 646.04,152.86C647.04,152.85 648.04,152.84 649.04,152.83C650.04,152.82 651.04,152.81 652.04,152.80C653.04,152.79 654.04,152.78 655.04,152.76C656.04,152.75 657.04,152.73 658.04,152.71C659.04,152.70 660.04,152.68 661.04,152.66C662.04,152.64 663.04,152.62 664.04,152.59C665.04,152.57 666.04,152.55 667.04,152.52C668.04,152.49 669.04,152.47 670.04,152.44C671.04,152.41 672.04,152.38 673.04,152.35C674.04,152.32 675.04,152.29 676.04,152.26C677.04,152.23 678.04,152.20 679.04,152.17C680.04,152.14 681.04,152.11 682.04,152.08C683.04,152.05 684.39,152.01 685.04,152.00C685.69,151.98 685.77,151.97 685.92,151.97"/>
<path stroke="#00ffff" d="M385.00,216.80L408.00,216.80C408.50,216.75 410.00,216.59 411.00,216.47C412.00,216.36 413.00,216.24 414.00,216.10C415.00,215.97 416.00,215.83 417.00,215.67C418.00,215.50 419.00,215.33 420.00,215.13C421.00,214.92 422.00,214.70 423.00,214.44C424.00,214.18 425.00,213.89 426.00,213.58C427.00,213.27 428.00,212.91 429.00,212.57C430.00,212.23 431.00,211.87 432.00,211.53C433.00,211.18 434.00,210.84 435.00,210.50C436.00,210.16 437.00,209.82 438.00,209.49C439.00,209.15 440.00,208.82 441.00,208.49C442.00,208.16 443.00,207.84 444.00,207.49C445.00,207.14 446.00,206.80 447.00,206.42C448.00,206.04 449.00,205.64 450.00,205.23C451.00,204.81 452.00,204.37 453.00,203.91C454.00,203.45 455.00,202.99 456.00,202.48C457.00,201.98 458.00,201.46 459.00,200.89C460.00,200.32 461.00,199.69 462.00,199.06C463.00,198.43 464.00,197.76 465.00,197.13C466.00,196.49 467.00,195.87 468.00,195.23C469.00,194.58 470.00,193.96 471.00,193.26C472.00,192.55 473.00,191.81 474.00,190.99C475.00,190.18 476.00,189.26 477.00,188.37C478.00,187.48 479.00,186.51 480.00,185.66C481.00,184.81 482.00,183.99 483.00,183.27C484.00,182.54 485.00,181.90 486.00,181.32C487.00,180.74 488.00,180.24 489.00,179.78C490.00,179.31 491.00,178.92 492.00,178.52C493.00,178.12 494.00,177.77 495.00,177.39C496.00,177.02 497.00,176.65 498.00,176.29C499.00,175.94 500.00,175.58 501.00,175.25C502.00,174.93 503.00,174.62 504.00,174.35C505.00,174.07 506.00,173.83 507.00,173.61C508.00,173.39 509.00,173.20 510.00,173.03C511.00,172.86 512.00,172.73 513.00,172.60C514.00,172.48 515.00,172.38 516.00,172.28C517.00,172.18 518.00,172.09 519.00,172.01C520.00,171.92 521.00,171.84 522.00,171.76C523.00,171.68 524.00,171.60 525.00,171.53C526.00,171.46 527.00,171.39 528.00,171.33C529.00,171.27 530.00,171.23 531.00,171.17C532.00,171.12 533.00,171.07 534.00,171.01C535.00,170.95 536.00,170.88 537.00,170.81C538.00,170.73 539.00,170.65 540.00,170.57C541.00,170.49 542.00,170.42 543.00,170.34C544.00,170.27 545.00,170.20 546.00,170.13C547.00,170.06 548.00,169.99 549.00,169.92C550.00,169.85 551.00,169.78 552.00,169.71C553.00,169.64 554.00,169.58 555.00,169.51C556.00,169.44 557.00,169.37 558.00,169.30C559.00,169.23 560.00,169.16 561.00,169.08C562.00,169.01 563.00,168.93 564.00,168.85C565.00,168.77 566.00,168.69 567.00,168.61C568.00,168.53 569.00,168.45 570.00,168.37C571.00,168.29 572.00,168.22 573.00,168.15C574.00,168.08 575.00,168.02 576.00,167.96C577.00,167.90 578.00,167.85 579.00,167.80C580.00,167.75 581.00,167.71 582.00,167.66C583.00,167.60 584.00,167.55 585.00,167.49C586.00,167.44 587.00,167.37 588.00,167.31C589.00,167.24 590.00,167.17 591.00,167.10C592.00,167.03 593.00,166.96 594.00,166.89C595.00,166.82 596.00,166.75 597.00,166.68C598.00,166.62 599.00,166.55 600.00,166.49C601.00,166.43 602.00,166.37 603.00,166.31C604.00,166.25 605.00,166.20 606.00,166.15C607.00,166.10 608.00,166.05 609.00,166.00C610.00,165.94 611.00,165.88 612.00,165.81C613.00,165.73 614.00,165.64 615.00,165.56C616.00,165.47 617.00,165.38 618.00,165.29C619.00,165.21 620.00,165.12 621.00,165.05C622.00,164.97 623.00,164.90 624.00,164.84C625.00,164.77 626.00,164.71 627.00,164.65C628.00,164.59 629.00,164.53 630.00,164.47C631.00,164.41 632.00,164.35 633.00,164.29C634.00,164.22 635.00,164.15 636.00,164.08C637.00,164.01 638.00,163.94 639.00,163.87C640.00,163.80 641.00,163.73 642.00,163.67C643.00,163.60 644.00,163.54 645.00,163.48C646.00,163.42 647.00,163.37 648.00,163.32C649.00,163.27 650.00,163.22 651.00,163.17C652.00,163.12 653.00,163.07 654.00,163.02C655.00,162.98 656.00,162.93 657.00,162.88C658.00,162.83 659.00,162.78 660.00,162.74C661.00,162.69 662.00,162.64 663.00,162.59C664.00,162.53 665.00,162.48 666.00,162.42C667.00,162.36 668.00,162.30 669.00,162.23C670.00,162.17 671.00,162.10 672.00,162.03C673.00,161.96 674.00,161.89 675.00,161.82C676.00,161.75 677.00,161.67 678.00,161.60C679.00,161.53 680.00,161.46 681.00,161.39C682.00,161.32 683.18,161.23 684.00,161.17C684.82,161.12 685.60,161.06 685.92,161.03"/>
<path stroke="#ff0000" d="M385.00,216.80L441.00,216.80C441.50,216.75 443.00,216.63 444.00,216.51C445.00,216.38 446.00,216.25 447.00,216.05C448.00,215.86 449.00,215.62 450.00,215.35C451.00,215.08 452.00,214.76 453.00,214.41C454.00,214.06 455.00,213.68 456.00,213.27C457.00,212.85 458.00,212.42 459.00,211.93C460.00,211.45 461.00,210.93 462.00,210.36C463.00,209.78 464.00,209.15 465.00,208.48C466.00,207.82 467.00,207.07 468.00,206.37C469.00,205.68 470.00,204.97 471.00,204.33C472.00,203.68 473.00,203.11 474.00,202.51C475.00,201.92 476.00,201.37 477.00,200.78C478.00,200.20 479.00,199.61 480.00,199.01C481.00,198.40 482.00,197.80 483.00,197.15C484.00,196.49 485.00,195.81 486.00,195.09C487.00,194.37 488.00,193.59 489.00,192.84C490.00,192.08 491.00,191.31 492.00,190.56C493.00,189.82 494.00,189.08 495.00,188.36C496.00,187.64 497.00,186.93 498.00,186.25C499.00,185.57 500.00,184.90 501.00,184.27C502.00,183.64 503.00,183.05 504.00,182.47C505.00,181.90 506.00,181.35 507.00,180.82C508.00,180.30 509.00,179.79 510.00,179.32C511.00,178.84 512.00,178.40 513.00,177.96C514.00,177.53 515.00,177.12 516.00,176.73C517.00,176.33 518.00,175.95 519.00,175.58C520.00,175.21 521.00,174.87 522.00,174.53C523.00,174.19 524.00,173.87 525.00,173.55C526.00,173.23 527.00,172.92 528.00,172.61C529.00,172.31 530.00,172.01 531.00,171.73C532.00,171.46 533.00,171.20 534.00,170.97C535.00,170.74 536.00,170.57 537.00,170.35C538.00,170.14 539.00,169.94 540.00,169.66C541.00,169.38 542.00,169.03 543.00,168.67C544.00,168.30 545.00,167.87 546.00,167.48C547.00,167.08 548.00,166.67 549.00,166.29C550.00,165.92 551.00,165.55 552.00,165.20C553.00,164.86 554.00,164.53 555.00,164.22C556.00,163.90 557.00,163.61 558.00,163.33C559.00,163.05 560.00,162.79 561.00,162.53C562.00,162.27 563.00,162.02 564.00,161.77C565.00,161.53 566.00,161.28 567.00,161.05C568.00,160.81 569.00,160.59 570.00,160.37C571.00,160.15 572.00,159.94 573.00,159.73C574.00,159.52 575.00,159.31 576.00,159.11C577.00,158.91 578.00,158.71 579.00,158.52C580.00,158.33 581.00,158.14 582.00,157.97C583.00,157.79 584.00,157.62 585.00,157.45C586.00,157.29 587.00,157.12 588.00,156.96C589.00,156.79 590.00,156.63 591.00,156.47C592.00,156.32 593.00,156.16 594.00,156.01C595.00,155.86 596.00,155.72 597.00,155.57C598.00,155.42 599.00,155.27 600.00,155.14C601.00,155.00 602.00,154.85 603.00,154.74C604.00,154.64 605.00,154.54 606.00,154.49C607.00,154.43 608.00,154.45 609.00,154.41C610.00,154.37 611.00,154.34 612.00,154.25C613.00,154.16 614.00,154.00 615.00,153.85C616.00,153.70 617.00,153.52 618.00,153.35C619.00,153.18 620.00,153.00 621.00,152.83C622.00,152.67 623.00,152.51 624.00,152.35C625.00,152.19 626.00,152.04 627.00,151.89C628.00,151.74 629.00,151.59 630.00,151.45C631.00,151.30 632.00,151.17 633.00,151.03C634.00,150.90 635.00,150.77 636.00,150.64C637.00,150.52 638.00,150.40 639.00,150.28C640.00,150.16 641.00,150.04 642.00,149.93C643.00,149.82 644.00,149.71 645.00,149.60C646.00,149.49 647.00,149.39 648.00,149.28C649.00,149.18 650.00,149.08 651.00,148.98C652.00,148.89 653.00,148.79 654.00,148.70C655.00,148.61 656.00,148.52 657.00,148.43C658.00,148.35 659.00,148.27 660.00,148.19C661.00,148.10 662.00,148.03 663.00,147.95C664.00,147.87 665.00,147.79 666.00,147.71C667.00,147.64 668.00,147.56 669.00,147.48C670.00,147.40 671.00,147.32 672.00,147.24C673.00,147.16 674.00,147.08 675.00,147.00C676.00,146.92 677.00,146.83 678.00,146.74C679.00,146.65 680.00,146.56 681.00,146.46C682.00,146.37 683.18,146.25 684.00,146.16C684.82,146.08 685.60,146.00 685.92,145.96"/>
<path stroke="#ff00ff" d="M385.00,216.80L428.00,216.80C428.50,216.75 430.00,216.62 431.00,216.53C432.00,216.43 433.00,216.35 434.00,216.24C435.00,216.14 436.00,216.03 437.00,215.90C438.00,215.77 439.00,215.63 440.00,215.45C441.00,215.27 442.00,215.09 443.00,214.84C444.00,214.60 445.00,214.32 446.00,213.99C447.00,213.67 448.00,213.28 449.00,212.90C450.00,212.52 451.00,212.11 452.00,211.71C453.00,211.31 454.00,210.91 455.00,210.50C456.00,210.10 457.00,209.70 458.00,209.28C459.00,208.87 460.00,208.44 461.00,208.01C462.00,207.58 463.00,207.13 464.00,206.70C465.00,206.26 466.00,205.84 467.00,205.42C468.00,204.99 469.00,204.59 470.00,204.16C471.00,203.73 472.00,203.31 473.00,202.86C474.00,202.41 475.00,201.94 476.00,201.47C477.00,201.00 478.00,200.51 479.00,200.03C480.00,199.55 481.00,199.08 482.00,198.57C483.00,198.06 484.00,197.54 485.00,196.97C486.00,196.40 487.00,195.77 488.00,195.15C489.00,194.53 490.00,193.87 491.00,193.26C492.00,192.66 493.00,192.06 494.00,191.50C495.00,190.95 496.00,190.42 497.00,189.92C498.00,189.43 499.00,188.97 500.00,188.54C501.00,188.11 502.00,187.72 503.00,187.34C504.00,186.97 505.00,186.62 506.00,186.30C507.00,185.97 508.00,185.67 509.00,185.39C510.00,185.12 511.00,184.87 512.00,184.64C513.00,184.41 514.00,184.21 515.00,184.01C516.00,183.81 517.00,183.62 518.00,183.44C519.00,183.26 520.00,183.08 521.00,182.91C522.00,182.74 523.00,182.57 524.00,182.42C525.00,182.27 526.00,182.12 527.00,181.98C528.00,181.84 529.00,181.70 530.00,181.58C531.00,181.45 532.00,181.32 533.00,181.25C534.00,181.17 535.00,181.15 536.00,181.13C537.00,181.11 538.00,181.15 539.00,181.11C540.00,181.08 541.00,181.02 542.00,180.91C543.00,180.81 544.00,180.64 545.00,180.48C546.00,180.32 547.00,180.13 548.00,179.95C549.00,179.77 550.00,179.58 551.00,179.39C552.00,179.20 553.00,179.01 554.00,178.82C555.00,178.63 556.00,178.43 557.00,178.24C558.00,178.05 559.00,177.86 560.00,177.68C561.00,177.49 562.00,177.31 563.00,177.14C564.00,176.96 565.00,176.80 566.00,176.63C567.00,176.47 568.00,176.31 569.00,176.15C570.00,176.00 571.00,175.85 572.00,175.70C573.00,175.55 574.00,175.40 575.00,175.25C576.00,175.11 577.00,174.97 578.00,174.83C579.00,174.69 580.00,174.55 581.00,174.42C582.00,174.28 583.00,174.15 584.00,174.01C585.00,173.88 586.00,173.75 587.00,173.62C588.00,173.49 589.00,173.36 590.00,173.24C591.00,173.11 592.00,172.98 593.00,172.85C594.00,172.73 595.00,172.60 596.00,172.47C597.00,172.34 598.00,172.20 599.00,172.07C600.00,171.93 601.00,171.79 602.00,171.67C603.00,171.54 604.00,171.41 605.00,171.32C606.00,171.22 607.00,171.16 608.00,171.10C609.00,171.04 610.00,171.03 611.00,170.96C612.00,170.89 613.00,170.80 614.00,170.70C615.00,170.59 616.00,170.45 617.00,170.33C618.00,170.20 619.00,170.07 620.00,169.94C621.00,169.82 622.00,169.70 623.00,169.59C624.00,169.48 625.00,169.37 626.00,169.27C627.00,169.17 628.00,169.07 629.00,168.97C630.00,168.88 631.00,168.78 632.00,168.69C633.00,168.60 634.00,168.52 635.00,168.43C636.00,168.35 637.00,168.26 638.00,168.18C639.00,168.10 640.00,168.03 641.00,167.95C642.00,167.87 643.00,167.80 644.00,167.72C645.00,167.65 646.00,167.58 647.00,167.51C648.00,167.44 649.00,167.37 650.00,167.30C651.00,167.23 652.00,167.16 653.00,167.09C654.00,167.02 655.00,166.94 656.00,166.87C657.00,166.79 658.00,166.71 659.00,166.63C660.00,166.55 661.00,166.47 662.00,166.39C663.00,166.31 664.00,166.23 665.00,166.15C666.00,166.08 667.00,166.00 668.00,165.93C669.00,165.85 670.00,165.78 671.00,165.71C672.00,165.64 673.00,165.57 674.00,165.50C675.00,165.43 676.00,165.36 677.00,165.29C678.00,165.22 679.00,165.15 680.00,165.08C681.00,165.01 682.01,164.94 683.00,164.87C683.99,164.80 685.43,164.70 685.92,164.66"/>
</g>
<g clip-path="url(#c10)" fill="none" stroke-width="1.7" stroke-linejoin="round" stroke-linecap="butt">
<path stroke="#0000ff" d="M69.90,368.50C70.40,368.47 71.90,368.38 72.90,368.32C73.90,368.26 74.90,368.20 75.90,368.14C76.90,368.08 77.90,368.02 78.90,367.95C79.90,367.88 80.90,367.82 81.90,367.74C82.90,367.67 83.90,367.59 84.90,367.50C85.90,367.42 86.90,367.33 87.90,367.23C88.90,367.14 89.90,367.03 90.90,366.93C91.90,366.83 92.90,366.73 93.90,366.63C94.90,366.53 95.90,366.44 96.90,366.35C97.90,366.26 98.90,366.19 99.90,366.08C100.90,365.98 101.90,365.88 102.90,365.74C103.90,365.60 104.90,365.43 105.90,365.24C106.90,365.06 107.90,364.84 108.90,364.61C109.90,364.39 110.90,364.14 111.90,363.90C112.90,363.66 113.90,363.40 114.90,363.16C115.90,362.91 116.90,362.66 117.90,362.42C118.90,362.19 119.90,361.95 120.90,361.73C121.90,361.50 122.90,361.29 123.90,361.07C124.90,360.85 125.90,360.65 126.90,360.43C127.90,360.21 128.90,359.99 129.90,359.76C130.90,359.52 131.90,359.27 132.90,359.03C133.90,358.78 134.90,358.53 135.90,358.29C136.90,358.04 137.90,357.83 138.90,357.57C139.90,357.31 140.90,357.05 141.90,356.73C142.90,356.41 143.90,356.04 144.90,355.65C145.90,355.26 146.90,354.82 147.90,354.38C148.90,353.93 149.90,353.47 150.90,352.99C151.90,352.52 152.90,352.03 153.90,351.53C154.90,351.02 155.90,350.50 156.90,349.97C157.90,349.45 158.90,348.90 159.90,348.36C160.90,347.81 161.90,347.26 162.90,346.72C163.90,346.18 164.90,345.63 165.90,345.11C166.90,344.58 167.90,344.06 168.90,343.56C169.90,343.07 170.90,342.59 171.90,342.13C172.90,341.67 173.90,341.24 174.90,340.83C175.90,340.42 176.90,340.03 177.90,339.67C178.90,339.31 179.90,338.98 180.90,338.68C181.90,338.37 182.90,338.09 183.90,337.84C184.90,337.58 185.90,337.35 186.90,337.14C187.90,336.93 188.90,336.74 189.90,336.57C190.90,336.39 191.90,336.24 192.90,336.09C193.90,335.95 194.90,335.82 195.90,335.69C196.90,335.57 197.90,335.46 198.90,335.35C199.90,335.24 200.90,335.14 201.90,335.05C202.90,334.96 203.90,334.88 204.90,334.81C205.90,334.74 206.90,334.67 207.90,334.61C208.90,334.56 209.90,334.51 210.90,334.47C211.90,334.43 212.90,334.40 213.90,334.38C214.90,334.36 215.90,334.34 216.90,334.33C217.90,334.31 218.90,334.31 219.90,334.30C220.90,334.30 221.90,334.30 222.90,334.30C223.90,334.31 224.90,334.32 225.90,334.33C226.90,334.34 227.90,334.36 228.90,334.38C229.90,334.40 230.90,334.42 231.90,334.44C232.90,334.46 233.90,334.48 234.90,334.50C235.90,334.52 236.90,334.54 237.90,334.54C238.90,334.55 239.90,334.56 240.90,334.56C241.90,334.56 242.90,334.56 243.90,334.57C244.90,334.58 245.90,334.59 246.90,334.62C247.90,334.64 248.90,334.68 249.90,334.72C250.90,334.76 251.90,334.80 252.90,334.84C253.90,334.88 254.90,334.93 255.90,334.97C256.90,335.01 257.90,335.05 258.90,335.08C259.90,335.11 260.90,335.14 261.90,335.17C262.90,335.20 263.90,335.22 264.90,335.24C265.90,335.26 266.90,335.29 267.90,335.31C268.90,335.34 269.90,335.38 270.90,335.41C271.90,335.45 272.90,335.49 273.90,335.52C274.90,335.56 275.90,335.59 276.90,335.62C277.90,335.65 278.90,335.68 279.90,335.70C280.90,335.73 281.90,335.75 282.90,335.77C283.90,335.80 284.90,335.83 285.90,335.85C286.90,335.87 287.90,335.89 288.90,335.90C289.90,335.90 290.90,335.89 291.90,335.88C292.90,335.86 293.90,335.84 294.90,335.81C295.90,335.78 296.90,335.75 297.90,335.72C298.90,335.69 299.90,335.65 300.90,335.62C301.90,335.59 302.90,335.56 303.90,335.54C304.90,335.51 305.90,335.49 306.90,335.47C307.90,335.45 308.90,335.43 309.90,335.42C310.90,335.40 311.90,335.39 312.90,335.37C313.90,335.35 314.90,335.33 315.90,335.31C316.90,335.28 317.90,335.25 318.90,335.22C319.90,335.19 320.90,335.15 321.90,335.10C322.90,335.05 323.90,335.00 324.90,334.95C325.90,334.89 326.90,334.83 327.90,334.77C328.90,334.71 329.90,334.64 330.90,334.58C331.90,334.51 332.90,334.44 333.90,334.38C334.90,334.31 335.90,334.24 336.90,334.17C337.90,334.10 338.90,334.03 339.90,333.96C340.90,333.89 341.90,333.82 342.90,333.74C343.90,333.66 344.90,333.58 345.90,333.49C346.90,333.39 347.90,333.30 348.90,333.19C349.90,333.09 350.90,332.98 351.90,332.87C352.90,332.75 353.90,332.63 354.90,332.51C355.90,332.39 356.90,332.26 357.90,332.13C358.90,332.00 359.90,331.87 360.90,331.74C361.90,331.61 362.90,331.48 363.90,331.35C364.90,331.22 365.90,331.08 366.90,330.96C367.90,330.83 369.22,330.70 369.90,330.61C370.58,330.51 370.82,330.43 371.00,330.40"/>
<path stroke="#32cd32" d="M69.90,341.50C70.40,341.46 71.90,341.34 72.90,341.26C73.90,341.18 74.90,341.10 75.90,341.01C76.90,340.93 77.90,340.85 78.90,340.76C79.90,340.67 80.90,340.58 81.90,340.49C82.90,340.39 83.90,340.29 84.90,340.18C85.90,340.07 86.90,339.96 87.90,339.84C88.90,339.72 89.90,339.59 90.90,339.47C91.90,339.34 92.90,339.21 93.90,339.08C94.90,338.95 95.90,338.82 96.90,338.69C97.90,338.57 98.90,338.44 99.90,338.31C100.90,338.17 101.90,338.04 102.90,337.89C103.90,337.75 104.90,337.59 105.90,337.43C106.90,337.27 107.90,337.11 108.90,336.94C109.90,336.77 110.90,336.59 111.90,336.41C112.90,336.23 113.90,336.05 114.90,335.87C115.90,335.68 116.90,335.49 117.90,335.30C118.90,335.10 119.90,334.89 120.90,334.68C121.90,334.46 122.90,334.24 123.90,334.01C124.90,333.77 125.90,333.52 126.90,333.27C127.90,333.01 128.90,332.75 129.90,332.48C130.90,332.20 131.90,331.92 132.90,331.63C133.90,331.34 134.90,331.05 135.90,330.74C136.90,330.44 137.90,330.13 138.90,329.81C139.90,329.50 140.90,329.18 141.90,328.85C142.90,328.52 143.90,328.18 144.90,327.82C145.90,327.46 146.90,327.09 147.90,326.69C148.90,326.28 149.90,325.87 150.90,325.41C151.90,324.95 152.90,324.47 153.90,323.92C154.90,323.37 155.90,322.78 156.90,322.12C157.90,321.47 158.90,320.75 159.90,320.00C160.90,319.26 161.90,318.47 162.90,317.68C163.90,316.89 164.90,316.08 165.90,315.28C166.90,314.48 167.90,313.67 168.90,312.87C169.90,312.07 170.90,311.26 171.90,310.50C172.90,309.74 173.90,308.98 174.90,308.31C175.90,307.64 176.90,307.02 177.90,306.46C178.90,305.90 179.90,305.42 180.90,304.96C181.90,304.50 182.90,304.09 183.90,303.72C184.90,303.34 185.90,303.01 186.90,302.71C187.90,302.42 188.90,302.16 189.90,301.94C190.90,301.71 191.90,301.52 192.90,301.35C193.90,301.17 194.90,301.02 195.90,300.88C196.90,300.74 197.90,300.61 198.90,300.49C199.90,300.38 200.90,300.29 201.90,300.21C202.90,300.13 203.90,300.07 204.90,300.00C205.90,299.94 206.90,299.88 207.90,299.83C208.90,299.77 209.90,299.72 210.90,299.67C211.90,299.63 212.90,299.59 213.90,299.56C214.90,299.54 215.90,299.52 216.90,299.51C217.90,299.50 218.90,299.51 219.90,299.52C220.90,299.53 221.90,299.54 222.90,299.56C223.90,299.59 224.90,299.62 225.90,299.65C226.90,299.68 227.90,299.71 228.90,299.74C229.90,299.77 230.90,299.80 231.90,299.83C232.90,299.85 233.90,299.87 234.90,299.90C235.90,299.92 236.90,299.95 237.90,299.98C238.90,300.02 239.90,300.06 240.90,300.09C241.90,300.13 242.90,300.17 243.90,300.19C244.90,300.22 245.90,300.24 246.90,300.25C247.90,300.27 248.90,300.27 249.90,300.27C250.90,300.26 251.90,300.25 252.90,300.23C253.90,300.21 254.90,300.18 255.90,300.14C256.90,300.11 257.90,300.06 258.90,300.02C259.90,299.97 260.90,299.92 261.90,299.86C262.90,299.81 263.90,299.75 264.90,299.69C265.90,299.63 266.90,299.57 267.90,299.51C268.90,299.45 269.90,299.39 270.90,299.33C271.90,299.27 272.90,299.21 273.90,299.15C274.90,299.09 275.90,299.02 276.90,298.95C277.90,298.88 278.90,298.80 279.90,298.72C280.90,298.65 281.90,298.57 282.90,298.49C283.90,298.41 284.90,298.33 285.90,298.25C286.90,298.16 287.90,298.07 288.90,297.97C289.90,297.87 290.90,297.75 291.90,297.63C292.90,297.51 293.90,297.38 294.90,297.25C295.90,297.12 296.90,296.98 297.90,296.85C298.90,296.71 299.90,296.58 300.90,296.44C301.90,296.31 302.90,296.18 303.90,296.05C304.90,295.92 305.90,295.79 306.90,295.67C307.90,295.54 308.90,295.42 309.90,295.30C310.90,295.18 311.90,295.06 312.90,294.94C313.90,294.82 314.90,294.70 315.90,294.59C316.90,294.47 317.90,294.35 318.90,294.23C319.90,294.11 320.90,293.99 321.90,293.87C322.90,293.75 323.90,293.63 324.90,293.51C325.90,293.39 326.90,293.27 327.90,293.15C328.90,293.03 329.90,292.91 330.90,292.79C331.90,292.67 332.90,292.55 333.90,292.43C334.90,292.32 335.90,292.20 336.90,292.08C337.90,291.96 338.90,291.85 339.90,291.73C340.90,291.61 341.90,291.50 342.90,291.38C343.90,291.26 344.90,291.14 345.90,291.02C346.90,290.89 347.90,290.76 348.90,290.63C349.90,290.50 350.90,290.37 351.90,290.23C352.90,290.10 353.90,289.96 354.90,289.82C355.90,289.68 356.90,289.54 357.90,289.39C358.90,289.25 359.90,289.11 360.90,288.96C361.90,288.82 362.90,288.67 363.90,288.53C364.90,288.39 365.90,288.24 366.90,288.11C367.90,287.97 369.22,287.83 369.90,287.73C370.58,287.62 370.82,287.54 371.00,287.50"/>
<path stroke="#00ffff" d="M106.00,440.00L105.95,313.19L106.12,311.49C106.62,311.22 108.12,310.36 109.12,309.86C110.12,309.36 111.12,308.89 112.12,308.47C113.12,308.05 114.12,307.68 115.12,307.32C116.12,306.96 117.12,306.63 118.12,306.33C119.12,306.03 120.12,305.76 121.12,305.53C122.12,305.29 123.12,305.12 124.12,304.93C125.12,304.74 126.12,304.61 127.12,304.40C128.12,304.20 129.12,304.00 130.12,303.72C131.12,303.43 132.12,303.08 133.12,302.70C134.12,302.31 135.12,301.85 136.12,301.41C137.12,300.97 138.12,300.49 139.12,300.05C140.12,299.61 141.12,299.16 142.12,298.75C143.12,298.35 144.12,297.96 145.12,297.61C146.12,297.26 147.12,296.95 148.12,296.64C149.12,296.32 150.12,296.03 151.12,295.70C152.12,295.38 153.12,295.03 154.12,294.67C155.12,294.31 156.12,293.95 157.12,293.54C158.12,293.13 159.12,292.74 160.12,292.23C161.12,291.72 162.12,291.17 163.12,290.49C164.12,289.81 165.12,289.00 166.12,288.15C167.12,287.30 168.12,286.31 169.12,285.39C170.12,284.46 171.12,283.48 172.12,282.61C173.12,281.74 174.12,280.90 175.12,280.16C176.12,279.42 177.12,278.75 178.12,278.16C179.12,277.57 180.12,277.07 181.12,276.61C182.12,276.16 183.12,275.78 184.12,275.43C185.12,275.08 186.12,274.80 187.12,274.53C188.12,274.27 189.12,274.05 190.12,273.85C191.12,273.65 192.12,273.48 193.12,273.31C194.12,273.14 195.12,273.00 196.12,272.85C197.12,272.70 198.12,272.57 199.12,272.43C200.12,272.30 201.12,272.17 202.12,272.05C203.12,271.93 204.12,271.82 205.12,271.71C206.12,271.60 207.12,271.49 208.12,271.39C209.12,271.29 210.12,271.19 211.12,271.09C212.12,270.99 213.12,270.89 214.12,270.79C215.12,270.69 216.12,270.59 217.12,270.49C218.12,270.39 219.12,270.29 220.12,270.19C221.12,270.09 222.12,270.00 223.12,269.90C224.12,269.80 225.12,269.71 226.12,269.59C227.12,269.48 228.12,269.36 229.12,269.19C230.12,269.03 231.12,268.82 232.12,268.61C233.12,268.40 234.12,268.15 235.12,267.93C236.12,267.72 237.12,267.51 238.12,267.34C239.12,267.16 240.12,267.03 241.12,266.89C242.12,266.76 243.12,266.65 244.12,266.54C245.12,266.42 246.12,266.31 247.12,266.19C248.12,266.07 249.12,265.95 250.12,265.83C251.12,265.72 252.12,265.59 253.12,265.47C254.12,265.35 255.12,265.23 256.12,265.11C257.12,264.99 258.12,264.87 259.12,264.76C260.12,264.65 261.12,264.54 262.12,264.43C263.12,264.32 264.12,264.22 265.12,264.12C266.12,264.02 267.12,263.92 268.12,263.82C269.12,263.72 270.12,263.61 271.12,263.51C272.12,263.42 273.12,263.31 274.12,263.22C275.12,263.13 276.12,263.05 277.12,262.97C278.12,262.90 279.12,262.83 280.12,262.77C281.12,262.70 282.12,262.65 283.12,262.59C284.12,262.52 285.12,262.46 286.12,262.38C287.12,262.30 288.12,262.20 289.12,262.09C290.12,261.97 291.12,261.83 292.12,261.68C293.12,261.54 294.12,261.37 295.12,261.21C296.12,261.04 297.12,260.87 298.12,260.71C299.12,260.54 300.12,260.37 301.12,260.21C302.12,260.06 303.12,259.90 304.12,259.75C305.12,259.61 306.12,259.47 307.12,259.34C308.12,259.21 309.12,259.08 310.12,258.96C311.12,258.84 312.12,258.73 313.12,258.61C314.12,258.49 315.12,258.38 316.12,258.26C317.12,258.14 318.12,258.02 319.12,257.90C320.12,257.78 321.12,257.65 322.12,257.52C323.12,257.39 324.12,257.26 325.12,257.12C326.12,256.99 327.12,256.85 328.12,256.71C329.12,256.57 330.12,256.43 331.12,256.28C332.12,256.13 333.12,255.98 334.12,255.82C335.12,255.66 336.12,255.50 337.12,255.33C338.12,255.17 339.12,254.99 340.12,254.81C341.12,254.64 342.12,254.46 343.12,254.27C344.12,254.09 345.12,253.90 346.12,253.72C347.12,253.53 348.12,253.35 349.12,253.16C350.12,252.98 351.12,252.79 352.12,252.61C353.12,252.42 354.12,252.24 355.12,252.05C356.12,251.87 357.12,251.68 358.12,251.50C359.12,251.31 360.12,251.13 361.12,250.94C362.12,250.75 363.12,250.57 364.12,250.38C365.12,250.20 366.12,250.01 367.12,249.83C368.12,249.64 369.47,249.40 370.12,249.28C370.77,249.16 370.85,249.13 371.00,249.10"/>
<path stroke="#ff0000" d="M145.60,440.00L145.55,273.24L145.89,269.84L146.91,267.29C147.41,266.91 148.91,265.78 149.91,264.99C150.91,264.20 151.91,263.38 152.91,262.56C153.91,261.73 154.91,260.87 155.91,260.02C156.91,259.17 157.91,258.31 158.91,257.45C159.91,256.59 160.91,255.72 161.91,254.87C162.91,254.03 163.91,253.13 164.91,252.38C165.91,251.62 166.91,250.86 167.91,250.34C168.91,249.82 169.91,249.42 170.91,249.26C171.91,249.11 172.91,249.18 173.91,249.43C174.91,249.67 175.91,250.17 176.91,250.73C177.91,251.29 178.91,252.04 179.91,252.78C180.91,253.53 181.91,254.38 182.91,255.22C183.91,256.06 184.91,256.95 185.91,257.84C186.91,258.73 187.91,259.63 188.91,260.54C189.91,261.46 190.91,262.39 191.91,263.30C192.91,264.22 193.91,265.14 194.91,266.04C195.91,266.94 196.91,267.82 197.91,268.71C198.91,269.59 199.91,270.46 200.91,271.35C201.91,272.23 202.91,273.13 203.91,274.02C204.91,274.92 205.91,275.82 206.91,276.72C207.91,277.62 208.91,278.52 209.91,279.42C210.91,280.32 211.91,281.22 212.91,282.12C213.91,283.02 214.91,283.93 215.91,284.82C216.91,285.72 217.91,286.62 218.91,287.50C219.91,288.39 220.91,289.27 221.91,290.13C222.91,291.00 223.91,291.86 224.91,292.71C225.91,293.56 226.91,294.40 227.91,295.22C228.91,296.04 229.91,296.84 230.91,297.61C231.91,298.39 232.91,299.14 233.91,299.88C234.91,300.63 235.91,301.37 236.91,302.09C237.91,302.82 238.91,303.55 239.91,304.26C240.91,304.97 241.91,305.67 242.91,306.35C243.91,307.02 244.91,307.68 245.91,308.33C246.91,308.97 247.91,309.59 248.91,310.20C249.91,310.81 250.91,311.41 251.91,311.99C252.91,312.58 253.91,313.15 254.91,313.71C255.91,314.28 256.91,314.84 257.91,315.40C258.91,315.95 259.91,316.50 260.91,317.04C261.91,317.58 262.91,318.11 263.91,318.64C264.91,319.17 265.91,319.70 266.91,320.23C267.91,320.77 268.91,321.30 269.91,321.84C270.91,322.39 271.91,322.94 272.91,323.47C273.91,324.01 274.91,324.55 275.91,325.08C276.91,325.60 277.91,326.11 278.91,326.61C279.91,327.11 280.91,327.60 281.91,328.08C282.91,328.56 283.91,329.03 284.91,329.48C285.91,329.93 286.91,330.37 287.91,330.80C288.91,331.22 289.91,331.63 290.91,332.02C291.91,332.42 292.91,332.79 293.91,333.15C294.91,333.51 295.91,333.84 296.91,334.17C297.91,334.49 298.91,334.80 299.91,335.10C300.91,335.40 301.91,335.69 302.91,335.97C303.91,336.26 304.91,336.54 305.91,336.81C306.91,337.09 307.91,337.36 308.91,337.62C309.91,337.89 310.91,338.14 311.91,338.40C312.91,338.65 313.91,338.90 314.91,339.14C315.91,339.38 316.91,339.62 317.91,339.85C318.91,340.08 319.91,340.31 320.91,340.53C321.91,340.75 322.91,340.96 323.91,341.17C324.91,341.38 325.91,341.58 326.91,341.78C327.91,341.98 328.91,342.17 329.91,342.36C330.91,342.55 331.91,342.73 332.91,342.90C333.91,343.08 334.91,343.25 335.91,343.42C336.91,343.58 337.91,343.74 338.91,343.89C339.91,344.05 340.91,344.20 341.91,344.34C342.91,344.48 343.91,344.62 344.91,344.75C345.91,344.88 346.91,345.01 347.91,345.13C348.91,345.25 349.91,345.36 350.91,345.47C351.91,345.58 352.91,345.69 353.91,345.79C354.91,345.89 355.91,345.99 356.91,346.09C357.91,346.19 358.91,346.29 359.91,346.39C360.91,346.49 361.91,346.59 362.91,346.68C363.91,346.78 364.91,346.88 365.91,346.97C366.91,347.06 368.08,347.15 368.91,347.23C369.75,347.31 370.59,347.42 370.93,347.45"/>
<path stroke="#ff00ff" d="M127.50,440.00L127.54,292.79L127.88,290.75C128.38,290.48 129.88,289.63 130.88,289.11C131.88,288.59 132.88,288.11 133.88,287.63C134.88,287.15 135.88,286.69 136.88,286.22C137.88,285.74 138.88,285.26 139.88,284.79C140.88,284.32 141.88,283.87 142.88,283.41C143.88,282.95 144.88,282.51 145.88,282.03C146.88,281.56 147.88,281.09 148.88,280.54C149.88,279.99 150.88,279.43 151.88,278.75C152.88,278.06 153.88,277.31 154.88,276.44C155.88,275.58 156.88,274.57 157.88,273.56C158.88,272.55 159.88,271.47 160.88,270.37C161.88,269.27 162.88,268.16 163.88,266.96C164.88,265.76 165.88,264.42 166.88,263.14C167.88,261.87 168.88,260.49 169.88,259.33C170.88,258.16 171.88,257.06 172.88,256.16C173.88,255.25 174.88,254.52 175.88,253.89C176.88,253.26 177.88,252.81 178.88,252.40C179.88,251.99 180.88,251.70 181.88,251.44C182.88,251.18 183.88,251.00 184.88,250.85C185.88,250.69 186.88,250.58 187.88,250.50C188.88,250.41 189.88,250.35 190.88,250.31C191.88,250.27 192.88,250.26 193.88,250.26C194.88,250.26 195.88,250.29 196.88,250.34C197.88,250.38 198.88,250.45 199.88,250.52C200.88,250.60 201.88,250.70 202.88,250.80C203.88,250.91 204.88,251.04 205.88,251.17C206.88,251.31 207.88,251.47 208.88,251.61C209.88,251.76 210.88,251.91 211.88,252.05C212.88,252.19 213.88,252.32 214.88,252.44C215.88,252.57 216.88,252.68 217.88,252.79C218.88,252.91 219.88,253.02 220.88,253.15C221.88,253.27 222.88,253.41 223.88,253.55C224.88,253.70 225.88,253.85 226.88,254.01C227.88,254.16 228.88,254.33 229.88,254.50C230.88,254.67 231.88,254.84 232.88,255.01C233.88,255.18 234.88,255.36 235.88,255.51C236.88,255.67 237.88,255.82 238.88,255.95C239.88,256.09 240.88,256.21 241.88,256.33C242.88,256.45 243.88,256.56 244.88,256.67C245.88,256.78 246.88,256.88 247.88,256.99C248.88,257.09 249.88,257.19 250.88,257.29C251.88,257.39 252.88,257.49 253.88,257.59C254.88,257.69 255.88,257.79 256.88,257.89C257.88,257.98 258.88,258.08 259.88,258.18C260.88,258.27 261.88,258.36 262.88,258.44C263.88,258.53 264.88,258.61 265.88,258.69C266.88,258.77 267.88,258.84 268.88,258.91C269.88,258.98 270.88,259.05 271.88,259.11C272.88,259.17 273.88,259.23 274.88,259.27C275.88,259.31 276.88,259.35 277.88,259.36C278.88,259.38 279.88,259.39 280.88,259.39C281.88,259.38 282.88,259.37 283.88,259.34C284.88,259.32 285.88,259.28 286.88,259.23C287.88,259.18 288.88,259.12 289.88,259.07C290.88,259.01 291.88,258.95 292.88,258.89C293.88,258.83 294.88,258.77 295.88,258.71C296.88,258.65 297.88,258.59 298.88,258.54C299.88,258.48 300.88,258.42 301.88,258.36C302.88,258.30 303.88,258.25 304.88,258.18C305.88,258.12 306.88,258.06 307.88,258.00C308.88,257.94 309.88,257.87 310.88,257.81C311.88,257.75 312.88,257.68 313.88,257.62C314.88,257.55 315.88,257.49 316.88,257.42C317.88,257.35 318.88,257.29 319.88,257.20C320.88,257.12 321.88,257.03 322.88,256.92C323.88,256.82 324.88,256.70 325.88,256.56C326.88,256.43 327.88,256.27 328.88,256.11C329.88,255.94 330.88,255.75 331.88,255.56C332.88,255.37 333.88,255.17 334.88,254.95C335.88,254.74 336.88,254.52 337.88,254.30C338.88,254.08 339.88,253.85 340.88,253.61C341.88,253.38 342.88,253.14 343.88,252.90C344.88,252.65 345.88,252.40 346.88,252.15C347.88,251.89 348.88,251.63 349.88,251.37C350.88,251.10 351.88,250.83 352.88,250.56C353.88,250.28 354.88,250.00 355.88,249.72C356.88,249.44 357.88,249.15 358.88,248.86C359.88,248.57 360.88,248.27 361.88,247.97C362.88,247.67 363.88,247.37 364.88,247.07C365.88,246.78 366.88,246.48 367.88,246.20C368.88,245.93 370.35,245.60 370.88,245.44C371.40,245.27 370.98,245.24 371.00,245.20"/>
</g>
<g clip-path="url(#c11)" fill="none" stroke-width="1.7" stroke-linejoin="round" stroke-linecap="butt">
<path stroke="#0000ff" d="M384.90,367.00C385.40,366.95 386.90,366.78 387.90,366.67C388.90,366.56 389.90,366.45 390.90,366.35C391.90,366.24 392.90,366.13 393.90,366.03C394.90,365.92 395.90,365.82 396.90,365.71C397.90,365.61 398.90,365.51 399.90,365.41C400.90,365.31 401.90,365.21 402.90,365.11C403.90,365.01 404.90,364.91 405.90,364.81C406.90,364.71 407.90,364.62 408.90,364.52C409.90,364.43 410.90,364.34 411.90,364.24C412.90,364.15 413.90,364.06 414.90,363.95C415.90,363.85 416.90,363.74 417.90,363.62C418.90,363.50 419.90,363.37 420.90,363.23C421.90,363.08 422.90,362.93 423.90,362.76C424.90,362.59 425.90,362.42 426.90,362.24C427.90,362.06 428.90,361.87 429.90,361.69C430.90,361.51 431.90,361.32 432.90,361.14C433.90,360.96 434.90,360.77 435.90,360.59C436.90,360.41 437.90,360.22 438.90,360.04C439.90,359.85 440.90,359.66 441.90,359.47C442.90,359.28 443.90,359.09 444.90,358.89C445.90,358.68 446.90,358.48 447.90,358.26C448.90,358.05 449.90,357.82 450.90,357.58C451.90,357.34 452.90,357.09 453.90,356.82C454.90,356.55 455.90,356.26 456.90,355.97C457.90,355.68 458.90,355.37 459.90,355.05C460.90,354.73 461.90,354.40 462.90,354.06C463.90,353.72 464.90,353.36 465.90,353.00C466.90,352.64 467.90,352.26 468.90,351.89C469.90,351.51 470.90,351.12 471.90,350.73C472.90,350.34 473.90,349.94 474.90,349.54C475.90,349.14 476.90,348.74 477.90,348.34C478.90,347.95 479.90,347.55 480.90,347.17C481.90,346.78 482.90,346.40 483.90,346.03C484.90,345.67 485.90,345.30 486.90,344.97C487.90,344.63 488.90,344.31 489.90,344.02C490.90,343.73 491.90,343.46 492.90,343.20C493.90,342.94 494.90,342.70 495.90,342.46C496.90,342.21 497.90,341.96 498.90,341.73C499.90,341.49 500.90,341.25 501.90,341.04C502.90,340.84 503.90,340.65 504.90,340.48C505.90,340.31 506.90,340.16 507.90,340.02C508.90,339.87 509.90,339.74 510.90,339.61C511.90,339.49 512.90,339.37 513.90,339.27C514.90,339.17 515.90,339.09 516.90,339.02C517.90,338.95 518.90,338.90 519.90,338.84C520.90,338.78 521.90,338.73 522.90,338.68C523.90,338.62 524.90,338.56 525.90,338.50C526.90,338.45 527.90,338.39 528.90,338.34C529.90,338.29 530.90,338.24 531.90,338.20C532.90,338.15 533.90,338.11 534.90,338.07C535.90,338.03 536.90,337.99 537.90,337.95C538.90,337.91 539.90,337.87 540.90,337.83C541.90,337.80 542.90,337.76 543.90,337.72C544.90,337.69 545.90,337.66 546.90,337.64C547.90,337.61 548.90,337.59 549.90,337.57C550.90,337.56 551.90,337.54 552.90,337.53C553.90,337.52 554.90,337.52 555.90,337.51C556.90,337.50 557.90,337.50 558.90,337.47C559.90,337.44 560.90,337.40 561.90,337.33C562.90,337.27 563.90,337.17 564.90,337.07C565.90,336.96 566.90,336.83 567.90,336.69C568.90,336.56 569.90,336.42 570.90,336.28C571.90,336.14 572.90,336.00 573.90,335.86C574.90,335.72 575.90,335.57 576.90,335.44C577.90,335.30 578.90,335.17 579.90,335.04C580.90,334.91 581.90,334.78 582.90,334.66C583.90,334.53 584.90,334.41 585.90,334.29C586.90,334.18 587.90,334.06 588.90,333.94C589.90,333.82 590.90,333.70 591.90,333.58C592.90,333.46 593.90,333.34 594.90,333.22C595.90,333.10 596.90,332.98 597.90,332.86C598.90,332.74 599.90,332.62 600.90,332.50C601.90,332.38 602.90,332.25 603.90,332.13C604.90,332.01 605.90,331.89 606.90,331.78C607.90,331.66 608.90,331.55 609.90,331.44C610.90,331.33 611.90,331.23 612.90,331.12C613.90,331.02 614.90,330.92 615.90,330.82C616.90,330.72 617.90,330.63 618.90,330.53C619.90,330.43 620.90,330.32 621.90,330.22C622.90,330.12 623.90,330.02 624.90,329.92C625.90,329.82 626.90,329.73 627.90,329.63C628.90,329.54 629.90,329.45 630.90,329.36C631.90,329.27 632.90,329.19 633.90,329.11C634.90,329.03 635.90,328.95 636.90,328.87C637.90,328.80 638.90,328.73 639.90,328.66C640.90,328.59 641.90,328.53 642.90,328.47C643.90,328.41 644.90,328.35 645.90,328.29C646.90,328.23 647.90,328.17 648.90,328.11C649.90,328.05 650.90,327.99 651.90,327.93C652.90,327.88 653.90,327.82 654.90,327.76C655.90,327.70 656.90,327.64 657.90,327.58C658.90,327.52 659.90,327.46 660.90,327.40C661.90,327.34 662.90,327.28 663.90,327.22C664.90,327.16 665.90,327.10 666.90,327.04C667.90,326.97 668.90,326.90 669.90,326.83C670.90,326.76 671.90,326.68 672.90,326.60C673.90,326.53 674.90,326.44 675.90,326.36C676.90,326.28 677.90,326.20 678.90,326.12C679.90,326.04 680.90,325.95 681.90,325.87C682.90,325.80 684.21,325.71 684.90,325.65C685.59,325.60 685.84,325.54 686.03,325.52"/>
<path stroke="#32cd32" d="M384.90,335.50C385.40,335.59 386.90,335.86 387.90,336.02C388.90,336.19 389.90,336.35 390.90,336.47C391.90,336.60 392.90,336.71 393.90,336.78C394.90,336.85 395.90,336.89 396.90,336.89C397.90,336.89 398.90,336.86 399.90,336.80C400.90,336.74 401.90,336.65 402.90,336.51C403.90,336.37 404.90,336.18 405.90,335.96C406.90,335.75 407.90,335.46 408.90,335.21C409.90,334.96 410.90,334.71 411.90,334.48C412.90,334.26 413.90,334.06 414.90,333.86C415.90,333.66 416.90,333.47 417.90,333.27C418.90,333.07 419.90,332.87 420.90,332.67C421.90,332.46 422.90,332.25 423.90,332.03C424.90,331.80 425.90,331.57 426.90,331.32C427.90,331.08 428.90,330.83 429.90,330.56C430.90,330.30 431.90,330.02 432.90,329.74C433.90,329.46 434.90,329.16 435.90,328.86C436.90,328.56 437.90,328.26 438.90,327.94C439.90,327.63 440.90,327.31 441.90,326.99C442.90,326.67 443.90,326.35 444.90,326.02C445.90,325.70 446.90,325.37 447.90,325.05C448.90,324.73 449.90,324.41 450.90,324.08C451.90,323.75 452.90,323.43 453.90,323.09C454.90,322.75 455.90,322.41 456.90,322.05C457.90,321.70 458.90,321.33 459.90,320.95C460.90,320.57 461.90,320.18 462.90,319.76C463.90,319.34 464.90,318.91 465.90,318.45C466.90,318.00 467.90,317.52 468.90,317.03C469.90,316.54 470.90,316.02 471.90,315.49C472.90,314.96 473.90,314.40 474.90,313.83C475.90,313.26 476.90,312.67 477.90,312.06C478.90,311.45 479.90,310.81 480.90,310.18C481.90,309.56 482.90,308.89 483.90,308.29C484.90,307.69 485.90,307.10 486.90,306.56C487.90,306.02 488.90,305.53 489.90,305.06C490.90,304.59 491.90,304.15 492.90,303.74C493.90,303.33 494.90,302.93 495.90,302.58C496.90,302.23 497.90,301.91 498.90,301.63C499.90,301.36 500.90,301.13 501.90,300.93C502.90,300.73 503.90,300.57 504.90,300.42C505.90,300.27 506.90,300.15 507.90,300.04C508.90,299.92 509.90,299.82 510.90,299.72C511.90,299.62 512.90,299.53 513.90,299.43C514.90,299.34 515.90,299.24 516.90,299.14C517.90,299.04 518.90,298.94 519.90,298.82C520.90,298.71 521.90,298.59 522.90,298.46C523.90,298.34 524.90,298.20 525.90,298.06C526.90,297.93 527.90,297.79 528.90,297.66C529.90,297.52 530.90,297.40 531.90,297.27C532.90,297.15 533.90,297.03 534.90,296.90C535.90,296.78 536.90,296.65 537.90,296.52C538.90,296.39 539.90,296.25 540.90,296.12C541.90,295.98 542.90,295.84 543.90,295.70C544.90,295.56 545.90,295.42 546.90,295.28C547.90,295.13 548.90,295.00 549.90,294.85C550.90,294.71 551.90,294.57 552.90,294.43C553.90,294.29 554.90,294.14 555.90,293.99C556.90,293.85 557.90,293.70 558.90,293.55C559.90,293.39 560.90,293.24 561.90,293.08C562.90,292.92 563.90,292.76 564.90,292.60C565.90,292.44 566.90,292.28 567.90,292.12C568.90,291.96 569.90,291.80 570.90,291.64C571.90,291.48 572.90,291.31 573.90,291.15C574.90,290.99 575.90,290.83 576.90,290.68C577.90,290.52 578.90,290.37 579.90,290.22C580.90,290.07 581.90,289.92 582.90,289.78C583.90,289.64 584.90,289.50 585.90,289.36C586.90,289.22 587.90,289.08 588.90,288.94C589.90,288.80 590.90,288.66 591.90,288.52C592.90,288.38 593.90,288.24 594.90,288.10C595.90,287.96 596.90,287.82 597.90,287.69C598.90,287.55 599.90,287.42 600.90,287.29C601.90,287.17 602.90,287.04 603.90,286.92C604.90,286.80 605.90,286.68 606.90,286.57C607.90,286.45 608.90,286.33 609.90,286.21C610.90,286.09 611.90,285.97 612.90,285.85C613.90,285.73 614.90,285.61 615.90,285.49C616.90,285.37 617.90,285.25 618.90,285.13C619.90,285.01 620.90,284.90 621.90,284.78C622.90,284.66 623.90,284.54 624.90,284.42C625.90,284.30 626.90,284.18 627.90,284.05C628.90,283.92 629.90,283.79 630.90,283.66C631.90,283.52 632.90,283.39 633.90,283.25C634.90,283.11 635.90,282.97 636.90,282.82C637.90,282.68 638.90,282.54 639.90,282.40C640.90,282.26 641.90,282.12 642.90,281.98C643.90,281.84 644.90,281.70 645.90,281.56C646.90,281.42 647.90,281.28 648.90,281.14C649.90,281.00 650.90,280.86 651.90,280.72C652.90,280.58 653.90,280.44 654.90,280.30C655.90,280.16 656.90,280.02 657.90,279.88C658.90,279.74 659.90,279.60 660.90,279.45C661.90,279.31 662.90,279.17 663.90,279.03C664.90,278.89 665.90,278.75 666.90,278.62C667.90,278.48 668.90,278.35 669.90,278.22C670.90,278.09 671.90,277.97 672.90,277.85C673.90,277.73 674.90,277.61 675.90,277.49C676.90,277.37 677.90,277.26 678.90,277.14C679.90,277.03 680.90,276.92 681.90,276.81C682.90,276.71 684.21,276.60 684.90,276.52C685.59,276.44 685.84,276.37 686.03,276.35"/>
<path stroke="#00ffff" d="M408.90,440.00L408.90,312.50L409.20,311.10C409.70,311.00 411.20,310.71 412.20,310.50C413.20,310.29 414.20,310.08 415.20,309.83C416.20,309.58 417.20,309.31 418.20,309.01C419.20,308.72 420.20,308.39 421.20,308.08C422.20,307.76 423.20,307.43 424.20,307.12C425.20,306.82 426.20,306.53 427.20,306.25C428.20,305.98 429.20,305.73 430.20,305.47C431.20,305.21 432.20,304.97 433.20,304.70C434.20,304.42 435.20,304.13 436.20,303.81C437.20,303.49 438.20,303.13 439.20,302.77C440.20,302.40 441.20,302.01 442.20,301.61C443.20,301.21 444.20,300.80 445.20,300.38C446.20,299.96 447.20,299.52 448.20,299.07C449.20,298.62 450.20,298.15 451.20,297.67C452.20,297.19 453.20,296.70 454.20,296.19C455.20,295.69 456.20,295.17 457.20,294.65C458.20,294.12 459.20,293.59 460.20,293.03C461.20,292.48 462.20,291.91 463.20,291.33C464.20,290.75 465.20,290.15 466.20,289.54C467.20,288.93 468.20,288.31 469.20,287.66C470.20,287.02 471.20,286.36 472.20,285.67C473.20,284.97 474.20,284.26 475.20,283.50C476.20,282.74 477.20,281.95 478.20,281.11C479.20,280.28 480.20,279.39 481.20,278.48C482.20,277.58 483.20,276.60 484.20,275.69C485.20,274.78 486.20,273.85 487.20,273.04C488.20,272.23 489.20,271.50 490.20,270.82C491.20,270.14 492.20,269.55 493.20,268.97C494.20,268.38 495.20,267.84 496.20,267.33C497.20,266.82 498.20,266.34 499.20,265.92C500.20,265.50 501.20,265.13 502.20,264.79C503.20,264.45 504.20,264.17 505.20,263.89C506.20,263.62 507.20,263.38 508.20,263.13C509.20,262.88 510.20,262.64 511.20,262.39C512.20,262.15 513.20,261.91 514.20,261.68C515.20,261.45 516.20,261.23 517.20,261.02C518.20,260.80 519.20,260.60 520.20,260.40C521.20,260.20 522.20,260.00 523.20,259.80C524.20,259.60 525.20,259.39 526.20,259.20C527.20,259.01 528.20,258.82 529.20,258.64C530.20,258.46 531.20,258.29 532.20,258.12C533.20,257.95 534.20,257.80 535.20,257.63C536.20,257.47 537.20,257.30 538.20,257.13C539.20,256.96 540.20,256.78 541.20,256.60C542.20,256.43 543.20,256.25 544.20,256.07C545.20,255.90 546.20,255.73 547.20,255.57C548.20,255.40 549.20,255.24 550.20,255.08C551.20,254.92 552.20,254.76 553.20,254.60C554.20,254.44 555.20,254.28 556.20,254.12C557.20,253.96 558.20,253.80 559.20,253.65C560.20,253.50 561.20,253.35 562.20,253.20C563.20,253.05 564.20,252.91 565.20,252.77C566.20,252.63 567.20,252.49 568.20,252.35C569.20,252.21 570.20,252.07 571.20,251.93C572.20,251.79 573.20,251.65 574.20,251.51C575.20,251.38 576.20,251.25 577.20,251.12C578.20,250.99 579.20,250.87 580.20,250.75C581.20,250.63 582.20,250.51 583.20,250.40C584.20,250.28 585.20,250.18 586.20,250.06C587.20,249.94 588.20,249.82 589.20,249.68C590.20,249.54 591.20,249.38 592.20,249.22C593.20,249.06 594.20,248.87 595.20,248.70C596.20,248.52 597.20,248.34 598.20,248.16C599.20,247.98 600.20,247.80 601.20,247.64C602.20,247.47 603.20,247.31 604.20,247.15C605.20,247.00 606.20,246.86 607.20,246.72C608.20,246.59 609.20,246.47 610.20,246.34C611.20,246.22 612.20,246.11 613.20,245.99C614.20,245.88 615.20,245.76 616.20,245.65C617.20,245.53 618.20,245.41 619.20,245.28C620.20,245.16 621.20,245.03 622.20,244.90C623.20,244.76 624.20,244.63 625.20,244.49C626.20,244.35 627.20,244.21 628.20,244.07C629.20,243.93 630.20,243.78 631.20,243.64C632.20,243.50 633.20,243.35 634.20,243.21C635.20,243.07 636.20,242.92 637.20,242.78C638.20,242.63 639.20,242.48 640.20,242.34C641.20,242.19 642.20,242.04 643.20,241.90C644.20,241.76 645.20,241.62 646.20,241.49C647.20,241.36 648.20,241.23 649.20,241.12C650.20,241.00 651.20,240.90 652.20,240.80C653.20,240.69 654.20,240.60 655.20,240.52C656.20,240.43 657.20,240.35 658.20,240.28C659.20,240.20 660.20,240.13 661.20,240.06C662.20,239.99 663.20,239.92 664.20,239.86C665.20,239.79 666.20,239.73 667.20,239.67C668.20,239.60 669.20,239.54 670.20,239.48C671.20,239.42 672.20,239.37 673.20,239.31C674.20,239.25 675.20,239.20 676.20,239.14C677.20,239.08 678.20,239.03 679.20,238.97C680.20,238.92 681.20,238.86 682.20,238.81C683.20,238.76 684.57,238.69 685.20,238.65C685.83,238.62 685.87,238.61 686.00,238.60"/>
<path stroke="#ff0000" d="M431.70,440.00L431.80,302.50L431.90,300.80L432.50,299.50L434.00,298.50L435.50,299.00L437.00,297.80L438.50,298.20L440.00,296.50C440.50,296.34 442.00,295.84 443.00,295.54C444.00,295.25 445.00,294.99 446.00,294.73C447.00,294.47 448.00,294.28 449.00,293.97C450.00,293.67 451.00,293.47 452.00,292.89C453.00,292.32 454.00,291.36 455.00,290.52C456.00,289.68 457.00,288.66 458.00,287.85C459.00,287.04 460.00,286.41 461.00,285.65C462.00,284.89 463.00,284.14 464.00,283.28C465.00,282.42 466.00,281.46 467.00,280.50C468.00,279.54 469.50,278.00 470.00,277.50C470.50,276.93 472.00,275.20 473.00,274.07C474.00,272.94 475.00,271.82 476.00,270.70C477.00,269.58 478.00,268.46 479.00,267.34C480.00,266.23 481.00,265.08 482.00,264.00C483.00,262.93 484.00,261.84 485.00,260.90C486.00,259.97 487.00,259.09 488.00,258.39C489.00,257.69 490.00,257.12 491.00,256.72C492.00,256.31 493.00,256.07 494.00,255.97C495.00,255.87 496.00,255.95 497.00,256.13C498.00,256.31 499.00,256.65 500.00,257.04C501.00,257.43 502.00,257.93 503.00,258.46C504.00,258.98 505.00,259.58 506.00,260.22C507.00,260.86 508.00,261.56 509.00,262.29C510.00,263.02 511.00,263.82 512.00,264.60C513.00,265.38 514.00,266.19 515.00,266.95C516.00,267.70 517.00,268.40 518.00,269.13C519.00,269.85 520.00,270.53 521.00,271.30C522.00,272.07 523.00,272.90 524.00,273.73C525.00,274.56 526.00,275.44 527.00,276.28C528.00,277.12 529.00,277.95 530.00,278.77C531.00,279.58 532.00,280.38 533.00,281.18C534.00,281.97 535.00,282.77 536.00,283.55C537.00,284.33 538.00,285.11 539.00,285.87C540.00,286.62 541.00,287.36 542.00,288.07C543.00,288.78 544.00,289.45 545.00,290.12C546.00,290.78 547.00,291.42 548.00,292.06C549.00,292.69 550.00,293.30 551.00,293.91C552.00,294.52 553.00,295.11 554.00,295.69C555.00,296.28 556.00,296.85 557.00,297.40C558.00,297.96 559.00,298.50 560.00,299.03C561.00,299.56 562.00,300.07 563.00,300.56C564.00,301.05 565.00,301.53 566.00,301.99C567.00,302.46 568.00,302.91 569.00,303.37C570.00,303.82 571.00,304.27 572.00,304.71C573.00,305.15 574.00,305.59 575.00,306.00C576.00,306.42 577.00,306.83 578.00,307.21C579.00,307.60 580.00,307.97 581.00,308.32C582.00,308.67 583.00,309.01 584.00,309.34C585.00,309.66 586.00,309.97 587.00,310.28C588.00,310.58 589.00,310.88 590.00,311.17C591.00,311.46 592.00,311.75 593.00,312.03C594.00,312.31 595.00,312.59 596.00,312.87C597.00,313.15 598.00,313.42 599.00,313.69C600.00,313.95 601.00,314.22 602.00,314.47C603.00,314.72 604.00,314.97 605.00,315.20C606.00,315.43 607.00,315.64 608.00,315.85C609.00,316.06 610.00,316.25 611.00,316.44C612.00,316.62 613.00,316.80 614.00,316.98C615.00,317.16 616.00,317.33 617.00,317.54C618.00,317.75 619.00,317.98 620.00,318.24C621.00,318.51 622.00,318.82 623.00,319.13C624.00,319.43 625.00,319.76 626.00,320.06C627.00,320.35 628.00,320.62 629.00,320.89C630.00,321.15 631.00,321.39 632.00,321.64C633.00,321.89 634.00,322.14 635.00,322.39C636.00,322.63 637.00,322.88 638.00,323.13C639.00,323.38 640.00,323.63 641.00,323.88C642.00,324.14 643.00,324.39 644.00,324.64C645.00,324.89 646.00,325.14 647.00,325.38C648.00,325.63 649.00,325.87 650.00,326.10C651.00,326.34 652.00,326.56 653.00,326.79C654.00,327.02 655.00,327.24 656.00,327.47C657.00,327.69 658.00,327.92 659.00,328.14C660.00,328.37 661.00,328.59 662.00,328.81C663.00,329.04 664.00,329.26 665.00,329.47C666.00,329.68 667.00,329.89 668.00,330.09C669.00,330.30 670.00,330.50 671.00,330.69C672.00,330.88 673.00,331.07 674.00,331.25C675.00,331.43 676.00,331.61 677.00,331.79C678.00,331.97 679.00,332.14 680.00,332.32C681.00,332.49 682.00,332.68 683.00,332.84C684.00,333.01 685.49,333.21 686.00,333.31C686.51,333.41 686.03,333.43 686.03,333.45"/>
<path stroke="#ff00ff" d="M422.20,440.00L422.20,308.50L422.40,307.20C422.90,306.92 424.40,306.09 425.40,305.54C426.40,304.98 427.40,304.45 428.40,303.89C429.40,303.32 430.40,302.73 431.40,302.13C432.40,301.53 433.40,300.91 434.40,300.27C435.40,299.63 436.40,299.10 437.40,298.29C438.40,297.49 439.40,296.40 440.40,295.44C441.40,294.48 442.40,293.23 443.40,292.50C444.40,291.77 445.40,291.58 446.40,291.07C447.40,290.55 448.40,290.05 449.40,289.41C450.40,288.76 451.40,287.99 452.40,287.22C453.40,286.45 454.40,285.61 455.40,284.78C456.40,283.94 457.40,283.06 458.40,282.20C459.40,281.35 460.40,280.58 461.40,279.66C462.40,278.75 463.40,277.75 464.40,276.71C465.40,275.68 466.47,274.49 467.40,273.46C468.33,272.42 469.57,270.99 470.00,270.50C470.50,269.76 472.00,267.59 473.00,266.06C474.00,264.52 475.00,262.97 476.00,261.31C477.00,259.64 478.00,257.85 479.00,256.07C480.00,254.28 481.00,252.34 482.00,250.59C483.00,248.85 484.00,247.08 485.00,245.60C486.00,244.13 487.00,242.82 488.00,241.74C489.00,240.66 490.00,239.83 491.00,239.13C492.00,238.43 493.00,237.96 494.00,237.53C495.00,237.11 496.00,236.84 497.00,236.58C498.00,236.32 499.00,236.14 500.00,235.97C501.00,235.81 502.00,235.69 503.00,235.58C504.00,235.47 505.00,235.40 506.00,235.32C507.00,235.24 508.00,235.18 509.00,235.12C510.00,235.05 511.00,234.99 512.00,234.93C513.00,234.87 514.00,234.81 515.00,234.75C516.00,234.69 517.00,234.64 518.00,234.58C519.00,234.52 520.00,234.47 521.00,234.41C522.00,234.36 523.00,234.31 524.00,234.24C525.00,234.18 526.00,234.12 527.00,234.04C528.00,233.95 529.00,233.86 530.00,233.75C531.00,233.64 532.00,233.52 533.00,233.39C534.00,233.26 535.00,233.12 536.00,233.00C537.00,232.87 538.00,232.75 539.00,232.64C540.00,232.53 541.00,232.43 542.00,232.35C543.00,232.27 544.00,232.20 545.00,232.16C546.00,232.12 547.00,232.10 548.00,232.11C549.00,232.11 550.00,232.16 551.00,232.21C552.00,232.26 553.00,232.34 554.00,232.38C555.00,232.42 556.00,232.46 557.00,232.46C558.00,232.45 559.00,232.40 560.00,232.36C561.00,232.31 562.00,232.22 563.00,232.18C564.00,232.14 565.00,232.10 566.00,232.10C567.00,232.09 568.00,232.12 569.00,232.16C570.00,232.20 571.00,232.27 572.00,232.33C573.00,232.39 574.00,232.46 575.00,232.53C576.00,232.59 577.00,232.66 578.00,232.72C579.00,232.77 580.00,232.83 581.00,232.87C582.00,232.92 583.00,232.95 584.00,232.98C585.00,233.01 586.00,233.03 587.00,233.05C588.00,233.07 589.00,233.09 590.00,233.11C591.00,233.12 592.00,233.14 593.00,233.15C594.00,233.17 595.00,233.19 596.00,233.20C597.00,233.22 598.00,233.24 599.00,233.26C600.00,233.28 601.00,233.30 602.00,233.32C603.00,233.34 604.00,233.36 605.00,233.38C606.00,233.40 607.00,233.42 608.00,233.44C609.00,233.46 610.00,233.48 611.00,233.51C612.00,233.53 613.00,233.55 614.00,233.58C615.00,233.61 616.00,233.63 617.00,233.66C618.00,233.68 619.00,233.71 620.00,233.73C621.00,233.75 622.00,233.77 623.00,233.77C624.00,233.78 625.00,233.78 626.00,233.78C627.00,233.77 628.00,233.76 629.00,233.74C630.00,233.72 631.00,233.69 632.00,233.66C633.00,233.63 634.00,233.59 635.00,233.55C636.00,233.50 637.00,233.45 638.00,233.38C639.00,233.32 640.00,233.25 641.00,233.17C642.00,233.08 643.00,232.99 644.00,232.89C645.00,232.79 646.00,232.68 647.00,232.56C648.00,232.44 649.00,232.32 650.00,232.19C651.00,232.06 652.00,231.93 653.00,231.80C654.00,231.66 655.00,231.53 656.00,231.39C657.00,231.26 658.00,231.12 659.00,230.98C660.00,230.84 661.00,230.69 662.00,230.55C663.00,230.41 664.00,230.26 665.00,230.12C666.00,229.98 667.00,229.84 668.00,229.71C669.00,229.57 670.00,229.44 671.00,229.32C672.00,229.20 673.00,229.09 674.00,228.98C675.00,228.87 676.00,228.77 677.00,228.67C678.00,228.56 679.00,228.47 680.00,228.37C681.00,228.27 682.00,228.18 683.00,228.08C684.00,227.99 685.50,227.85 686.00,227.80"/>
</g>
<g clip-path="url(#c20)" fill="none" stroke-width="1.7" stroke-linejoin="round" stroke-linecap="butt">
<path stroke="#0000ff" d="M69.99,583.06C70.49,583.06 71.99,583.11 72.99,583.09C73.99,583.07 74.99,583.02 75.99,582.93C76.99,582.83 77.99,582.67 78.99,582.51C79.99,582.34 80.99,582.12 81.99,581.92C82.99,581.73 83.99,581.51 84.99,581.33C85.99,581.15 86.99,580.99 87.99,580.85C88.99,580.71 89.99,580.61 90.99,580.51C91.99,580.42 92.99,580.36 93.99,580.27C94.99,580.19 95.99,580.12 96.99,580.00C97.99,579.89 98.99,579.75 99.99,579.57C100.99,579.39 101.99,579.16 102.99,578.92C103.99,578.68 104.99,578.39 105.99,578.11C106.99,577.84 107.99,577.54 108.99,577.27C109.99,577.00 110.99,576.73 111.99,576.47C112.99,576.22 113.99,575.97 114.99,575.73C115.99,575.49 116.99,575.26 117.99,575.04C118.99,574.82 119.99,574.61 120.99,574.42C121.99,574.23 122.99,574.07 123.99,573.89C124.99,573.72 125.99,573.57 126.99,573.40C127.99,573.22 128.99,573.04 129.99,572.84C130.99,572.64 131.99,572.41 132.99,572.18C133.99,571.96 134.99,571.72 135.99,571.49C136.99,571.27 137.99,571.04 138.99,570.83C139.99,570.61 140.99,570.41 141.99,570.22C142.99,570.03 143.99,569.85 144.99,569.67C145.99,569.49 146.99,569.32 147.99,569.14C148.99,568.95 149.99,568.77 150.99,568.57C151.99,568.36 152.99,568.15 153.99,567.93C154.99,567.71 155.99,567.47 156.99,567.24C157.99,567.00 158.99,566.75 159.99,566.51C160.99,566.27 161.99,566.02 162.99,565.81C163.99,565.60 164.99,565.41 165.99,565.25C166.99,565.09 167.99,564.97 168.99,564.86C169.99,564.76 170.99,564.70 171.99,564.64C172.99,564.58 173.99,564.54 174.99,564.50C175.99,564.45 176.99,564.42 177.99,564.38C178.99,564.35 179.99,564.32 180.99,564.29C181.99,564.26 182.99,564.24 183.99,564.21C184.99,564.18 185.99,564.15 186.99,564.11C187.99,564.08 188.99,564.03 189.99,563.98C190.99,563.93 191.99,563.88 192.99,563.81C193.99,563.74 194.99,563.66 195.99,563.58C196.99,563.50 197.99,563.40 198.99,563.30C199.99,563.21 200.99,563.10 201.99,563.00C202.99,562.90 203.99,562.80 204.99,562.70C205.99,562.60 206.99,562.50 207.99,562.40C208.99,562.30 209.99,562.21 210.99,562.10C211.99,562.00 212.99,561.90 213.99,561.78C214.99,561.67 215.99,561.55 216.99,561.41C217.99,561.27 218.99,561.11 219.99,560.94C220.99,560.77 221.99,560.58 222.99,560.39C223.99,560.20 224.99,559.98 225.99,559.82C226.99,559.65 227.99,559.50 228.99,559.41C229.99,559.32 230.99,559.32 231.99,559.28C232.99,559.24 233.99,559.25 234.99,559.18C235.99,559.12 236.99,559.01 237.99,558.90C238.99,558.79 239.99,558.64 240.99,558.51C241.99,558.37 242.99,558.23 243.99,558.09C244.99,557.96 245.99,557.82 246.99,557.68C247.99,557.55 248.99,557.41 249.99,557.29C250.99,557.16 251.99,557.04 252.99,556.92C253.99,556.80 254.99,556.68 255.99,556.56C256.99,556.44 257.99,556.32 258.99,556.19C259.99,556.06 260.99,555.92 261.99,555.77C262.99,555.62 263.99,555.46 264.99,555.30C265.99,555.14 266.99,554.97 267.99,554.80C268.99,554.62 269.99,554.45 270.99,554.27C271.99,554.09 272.99,553.90 273.99,553.72C274.99,553.53 275.99,553.34 276.99,553.15C277.99,552.95 278.99,552.76 279.99,552.57C280.99,552.38 281.99,552.19 282.99,552.00C283.99,551.82 284.99,551.64 285.99,551.46C286.99,551.29 287.99,551.12 288.99,550.93C289.99,550.75 290.99,550.58 291.99,550.38C292.99,550.18 293.99,549.97 294.99,549.73C295.99,549.49 296.99,549.22 297.99,548.93C298.99,548.65 299.99,548.33 300.99,548.02C301.99,547.72 302.99,547.40 303.99,547.10C304.99,546.80 305.99,546.51 306.99,546.23C307.99,545.95 308.99,545.68 309.99,545.42C310.99,545.16 311.99,544.91 312.99,544.66C313.99,544.42 314.99,544.18 315.99,543.94C316.99,543.70 317.99,543.48 318.99,543.25C319.99,543.02 320.99,542.80 321.99,542.57C322.99,542.34 323.99,542.11 324.99,541.84C325.99,541.58 326.99,541.29 327.99,540.96C328.99,540.63 329.99,540.25 330.99,539.87C331.99,539.50 332.99,539.09 333.99,538.70C334.99,538.30 335.99,537.92 336.99,537.51C337.99,537.09 338.99,536.68 339.99,536.19C340.99,535.69 341.99,535.15 342.99,534.54C343.99,533.92 344.99,533.23 345.99,532.48C346.99,531.74 347.99,530.93 348.99,530.08C349.99,529.23 350.99,528.34 351.99,527.40C352.99,526.46 353.99,525.48 354.99,524.44C355.99,523.40 356.99,522.31 357.99,521.15C358.99,519.98 359.99,518.74 360.99,517.46C361.99,516.17 362.99,514.75 363.99,513.43C364.99,512.12 365.99,510.75 366.99,509.54C367.99,508.34 369.37,506.94 369.99,506.22C370.60,505.49 370.55,505.37 370.66,505.20"/>
<path stroke="#32cd32" d="M69.99,589.18C70.49,589.35 71.99,589.96 72.99,590.19C73.99,590.41 74.99,590.51 75.99,590.51C76.99,590.51 77.99,590.34 78.99,590.19C79.99,590.04 80.99,589.80 81.99,589.60C82.99,589.41 83.99,589.19 84.99,589.02C85.99,588.85 86.99,588.71 87.99,588.60C88.99,588.50 89.99,588.43 90.99,588.39C91.99,588.34 92.99,588.32 93.99,588.32C94.99,588.31 95.99,588.32 96.99,588.34C97.99,588.37 98.99,588.42 99.99,588.44C100.99,588.47 101.99,588.50 102.99,588.47C103.99,588.44 104.99,588.36 105.99,588.25C106.99,588.15 107.99,587.99 108.99,587.84C109.99,587.69 110.99,587.53 111.99,587.38C112.99,587.22 113.99,587.08 114.99,586.93C115.99,586.78 116.99,586.63 117.99,586.48C118.99,586.33 119.99,586.18 120.99,586.02C121.99,585.85 122.99,585.69 123.99,585.51C124.99,585.34 125.99,585.17 126.99,584.98C127.99,584.79 128.99,584.61 129.99,584.39C130.99,584.16 131.99,583.93 132.99,583.65C133.99,583.37 134.99,583.05 135.99,582.70C136.99,582.36 137.99,581.98 138.99,581.59C139.99,581.21 140.99,580.80 141.99,580.39C142.99,579.97 143.99,579.55 144.99,579.10C145.99,578.65 146.99,578.17 147.99,577.67C148.99,577.18 149.99,576.62 150.99,576.11C151.99,575.60 152.99,575.07 153.99,574.61C154.99,574.16 155.99,573.76 156.99,573.37C157.99,572.98 158.99,572.64 159.99,572.26C160.99,571.89 161.99,571.47 162.99,571.09C163.99,570.71 164.99,570.31 165.99,569.99C166.99,569.66 167.99,569.37 168.99,569.13C169.99,568.88 170.99,568.69 171.99,568.51C172.99,568.33 173.99,568.19 174.99,568.06C175.99,567.92 176.99,567.82 177.99,567.71C178.99,567.60 179.99,567.50 180.99,567.40C181.99,567.30 182.99,567.20 183.99,567.10C184.99,567.00 185.99,566.90 186.99,566.80C187.99,566.70 188.99,566.60 189.99,566.50C190.99,566.40 191.99,566.30 192.99,566.19C193.99,566.08 194.99,565.96 195.99,565.84C196.99,565.72 197.99,565.58 198.99,565.45C199.99,565.33 200.99,565.20 201.99,565.07C202.99,564.94 203.99,564.82 204.99,564.68C205.99,564.55 206.99,564.42 207.99,564.27C208.99,564.11 209.99,563.95 210.99,563.77C211.99,563.59 212.99,563.39 213.99,563.18C214.99,562.97 215.99,562.75 216.99,562.51C217.99,562.28 218.99,562.03 219.99,561.78C220.99,561.53 221.99,561.27 222.99,561.01C223.99,560.76 224.99,560.47 225.99,560.26C226.99,560.05 227.99,559.87 228.99,559.76C229.99,559.64 230.99,559.65 231.99,559.58C232.99,559.51 233.99,559.48 234.99,559.33C235.99,559.19 236.99,558.97 237.99,558.74C238.99,558.52 239.99,558.24 240.99,558.00C241.99,557.76 242.99,557.52 243.99,557.29C244.99,557.06 245.99,556.85 246.99,556.64C247.99,556.42 248.99,556.22 249.99,556.00C250.99,555.79 251.99,555.58 252.99,555.37C253.99,555.15 254.99,554.94 255.99,554.72C256.99,554.50 257.99,554.29 258.99,554.06C259.99,553.84 260.99,553.62 261.99,553.40C262.99,553.18 263.99,552.95 264.99,552.73C265.99,552.50 266.99,552.28 267.99,552.05C268.99,551.82 269.99,551.59 270.99,551.37C271.99,551.14 272.99,550.91 273.99,550.68C274.99,550.45 275.99,550.21 276.99,549.98C277.99,549.75 278.99,549.52 279.99,549.29C280.99,549.05 281.99,548.82 282.99,548.59C283.99,548.36 284.99,548.14 285.99,547.91C286.99,547.68 287.99,547.45 288.99,547.22C289.99,546.99 290.99,546.77 291.99,546.53C292.99,546.29 293.99,546.05 294.99,545.79C295.99,545.53 296.99,545.27 297.99,544.98C298.99,544.69 299.99,544.38 300.99,544.06C301.99,543.75 302.99,543.41 303.99,543.08C304.99,542.75 305.99,542.41 306.99,542.09C307.99,541.78 308.99,541.47 309.99,541.16C310.99,540.86 311.99,540.57 312.99,540.29C313.99,540.00 314.99,539.72 315.99,539.44C316.99,539.17 317.99,538.90 318.99,538.63C319.99,538.37 320.99,538.11 321.99,537.85C322.99,537.59 323.99,537.35 324.99,537.05C325.99,536.75 326.99,536.43 327.99,536.04C328.99,535.66 329.99,535.19 330.99,534.74C331.99,534.29 332.99,533.80 333.99,533.34C334.99,532.88 335.99,532.46 336.99,531.99C337.99,531.52 338.99,531.06 339.99,530.50C340.99,529.95 341.99,529.34 342.99,528.66C343.99,527.97 344.99,527.22 345.99,526.41C346.99,525.61 347.99,524.74 348.99,523.83C349.99,522.91 350.99,521.96 351.99,520.91C352.99,519.86 353.99,518.76 354.99,517.54C355.99,516.31 356.99,514.98 357.99,513.54C358.99,512.10 359.99,510.51 360.99,508.88C361.99,507.26 362.99,505.46 363.99,503.80C364.99,502.14 365.99,500.45 366.99,498.91C367.99,497.37 369.37,495.52 369.99,494.57C370.60,493.62 370.55,493.43 370.66,493.20"/>
<path stroke="#00ffff" d="M70.00,636.80L104.80,636.80L105.50,626.00L107.50,624.50L109.50,623.50L110.50,617.00L112.00,616.00L113.50,609.00L116.50,606.00L118.00,606.50L119.50,604.50L123.00,600.00L126.00,597.00C126.50,596.74 128.00,595.94 129.00,595.42C130.00,594.90 131.00,594.40 132.00,593.87C133.00,593.34 134.00,592.82 135.00,592.24C136.00,591.66 137.00,591.03 138.00,590.39C139.00,589.76 140.00,589.07 141.00,588.44C142.00,587.81 143.00,587.18 144.00,586.61C145.00,586.05 146.00,585.53 147.00,585.05C148.00,584.57 149.00,584.13 150.00,583.73C151.00,583.32 152.00,582.94 153.00,582.60C154.00,582.25 155.00,581.97 156.00,581.67C157.00,581.36 158.00,581.14 159.00,580.78C160.00,580.42 161.00,579.99 162.00,579.49C163.00,578.98 164.00,578.33 165.00,577.77C166.00,577.20 167.00,576.61 168.00,576.12C169.00,575.63 170.00,575.20 171.00,574.82C172.00,574.44 173.00,574.13 174.00,573.82C175.00,573.52 176.00,573.25 177.00,572.99C178.00,572.72 179.00,572.47 180.00,572.22C181.00,571.97 182.00,571.72 183.00,571.48C184.00,571.24 185.00,571.00 186.00,570.76C187.00,570.52 188.00,570.28 189.00,570.05C190.00,569.82 191.00,569.59 192.00,569.36C193.00,569.14 194.00,568.91 195.00,568.68C196.00,568.45 197.00,568.21 198.00,567.97C199.00,567.73 200.00,567.48 201.00,567.23C202.00,566.98 203.00,566.72 204.00,566.47C205.00,566.22 206.00,565.97 207.00,565.72C208.00,565.48 209.00,565.23 210.00,564.98C211.00,564.73 212.00,564.47 213.00,564.21C214.00,563.94 215.00,563.66 216.00,563.38C217.00,563.10 218.00,562.80 219.00,562.51C220.00,562.22 221.00,561.93 222.00,561.65C223.00,561.36 224.00,561.08 225.00,560.81C226.00,560.54 227.00,560.28 228.00,560.02C229.00,559.76 230.00,559.53 231.00,559.27C232.00,559.02 233.00,558.77 234.00,558.49C235.00,558.22 236.00,557.93 237.00,557.64C238.00,557.35 239.00,557.04 240.00,556.74C241.00,556.44 242.00,556.14 243.00,555.85C244.00,555.55 245.00,555.26 246.00,554.97C247.00,554.69 248.00,554.40 249.00,554.12C250.00,553.84 251.00,553.56 252.00,553.29C253.00,553.02 254.00,552.75 255.00,552.48C256.00,552.21 257.00,551.94 258.00,551.67C259.00,551.40 260.00,551.12 261.00,550.84C262.00,550.56 263.00,550.27 264.00,549.99C265.00,549.70 266.00,549.41 267.00,549.13C268.00,548.84 269.00,548.56 270.00,548.29C271.00,548.02 272.00,547.76 273.00,547.51C274.00,547.25 275.00,547.01 276.00,546.77C277.00,546.54 278.00,546.31 279.00,546.08C280.00,545.86 281.00,545.63 282.00,545.42C283.00,545.20 284.00,544.99 285.00,544.77C286.00,544.56 287.00,544.36 288.00,544.15C289.00,543.94 290.00,543.74 291.00,543.51C292.00,543.28 293.00,543.05 294.00,542.77C295.00,542.50 296.00,542.18 297.00,541.85C298.00,541.52 299.00,541.14 300.00,540.78C301.00,540.42 302.00,540.06 303.00,539.71C304.00,539.36 305.00,539.03 306.00,538.68C307.00,538.34 308.00,537.99 309.00,537.64C310.00,537.29 311.00,536.93 312.00,536.58C313.00,536.23 314.00,535.88 315.00,535.55C316.00,535.22 317.00,534.90 318.00,534.61C319.00,534.31 320.00,534.04 321.00,533.76C322.00,533.47 323.00,533.23 324.00,532.91C325.00,532.60 326.00,532.28 327.00,531.88C328.00,531.47 329.00,530.98 330.00,530.48C331.00,529.99 332.00,529.42 333.00,528.91C334.00,528.40 335.00,527.93 336.00,527.42C337.00,526.92 338.00,526.44 339.00,525.87C340.00,525.30 341.00,524.69 342.00,523.99C343.00,523.29 344.00,522.50 345.00,521.65C346.00,520.80 347.00,519.87 348.00,518.88C349.00,517.90 350.00,516.87 351.00,515.74C352.00,514.61 353.00,513.43 354.00,512.10C355.00,510.77 356.00,509.33 357.00,507.75C358.00,506.18 359.00,504.47 360.00,502.63C361.00,500.79 362.00,498.76 363.00,496.70C364.00,494.65 365.00,492.40 366.00,490.33C367.00,488.26 368.22,485.90 369.00,484.27C369.78,482.63 370.38,481.14 370.66,480.51"/>
<path stroke="#ff0000" d="M70.00,636.80L145.00,636.80L146.00,634.00L146.50,620.00L146.70,608.00L149.00,604.00C149.50,603.34 151.00,601.33 152.00,600.03C153.00,598.74 154.00,597.44 155.00,596.22C156.00,595.00 157.00,593.84 158.00,592.71C159.00,591.59 160.00,590.55 161.00,589.48C162.00,588.41 163.00,587.33 164.00,586.29C165.00,585.25 166.00,584.16 167.00,583.23C168.00,582.30 169.00,581.40 170.00,580.70C171.00,580.00 172.00,579.44 173.00,579.02C174.00,578.59 175.00,578.35 176.00,578.14C177.00,577.92 178.00,577.85 179.00,577.74C180.00,577.62 181.00,577.56 182.00,577.44C183.00,577.33 184.00,577.21 185.00,577.04C186.00,576.88 187.00,576.68 188.00,576.45C189.00,576.22 190.00,575.95 191.00,575.67C192.00,575.39 193.00,575.09 194.00,574.78C195.00,574.47 196.00,574.14 197.00,573.81C198.00,573.48 199.00,573.13 200.00,572.78C201.00,572.43 202.00,572.08 203.00,571.72C204.00,571.36 205.00,571.00 206.00,570.64C207.00,570.28 208.00,569.92 209.00,569.55C210.00,569.18 211.00,568.81 212.00,568.44C213.00,568.07 214.00,567.69 215.00,567.32C216.00,566.95 217.00,566.59 218.00,566.22C219.00,565.86 220.00,565.50 221.00,565.14C222.00,564.78 223.00,564.42 224.00,564.07C225.00,563.71 226.00,563.36 227.00,563.02C228.00,562.68 229.00,562.34 230.00,562.04C231.00,561.73 232.00,561.45 233.00,561.18C234.00,560.91 235.00,560.67 236.00,560.43C237.00,560.19 238.00,559.97 239.00,559.74C240.00,559.51 241.00,559.28 242.00,559.05C243.00,558.82 244.00,558.58 245.00,558.34C246.00,558.11 247.00,557.87 248.00,557.64C249.00,557.41 250.00,557.18 251.00,556.97C252.00,556.75 253.00,556.55 254.00,556.35C255.00,556.15 256.00,555.96 257.00,555.76C258.00,555.57 259.00,555.38 260.00,555.18C261.00,554.99 262.00,554.79 263.00,554.59C264.00,554.38 265.00,554.18 266.00,553.97C267.00,553.77 268.00,553.56 269.00,553.35C270.00,553.14 271.00,552.93 272.00,552.72C273.00,552.51 274.00,552.30 275.00,552.09C276.00,551.88 277.00,551.66 278.00,551.45C279.00,551.24 280.00,551.03 281.00,550.82C282.00,550.62 283.00,550.42 284.00,550.22C285.00,550.03 286.00,549.85 287.00,549.66C288.00,549.47 289.00,549.29 290.00,549.09C291.00,548.90 292.00,548.71 293.00,548.48C294.00,548.25 295.00,547.99 296.00,547.71C297.00,547.43 298.00,547.10 299.00,546.79C300.00,546.47 301.00,546.14 302.00,545.82C303.00,545.51 304.00,545.21 305.00,544.90C306.00,544.59 307.00,544.27 308.00,543.96C309.00,543.64 310.00,543.31 311.00,543.00C312.00,542.69 313.00,542.39 314.00,542.11C315.00,541.83 316.00,541.57 317.00,541.32C318.00,541.06 319.00,540.82 320.00,540.58C321.00,540.33 322.00,540.10 323.00,539.85C324.00,539.59 325.00,539.35 326.00,539.04C327.00,538.73 328.00,538.38 329.00,537.99C330.00,537.60 331.00,537.15 332.00,536.72C333.00,536.30 334.00,535.87 335.00,535.45C336.00,535.02 337.00,534.64 338.00,534.17C339.00,533.71 340.00,533.23 341.00,532.67C342.00,532.10 343.00,531.46 344.00,530.77C345.00,530.08 346.00,529.32 347.00,528.53C348.00,527.73 349.00,526.90 350.00,526.00C351.00,525.10 352.00,524.17 353.00,523.12C354.00,522.08 355.00,520.94 356.00,519.73C357.00,518.51 358.00,517.19 359.00,515.83C360.00,514.47 361.00,513.02 362.00,511.57C363.00,510.11 364.00,508.54 365.00,507.10C366.00,505.65 367.06,504.21 368.00,502.90C368.94,501.59 370.21,499.86 370.66,499.26"/>
<path stroke="#ff00ff" d="M70.00,636.80L127.80,636.80L128.80,626.50L130.50,625.50L131.50,622.00L132.50,615.00L133.50,609.00L136.00,604.50L139.00,600.50L142.00,598.00C142.50,597.50 144.00,595.99 145.00,595.02C146.00,594.04 147.00,593.05 148.00,592.15C149.00,591.25 150.00,590.38 151.00,589.62C152.00,588.87 153.00,588.23 154.00,587.62C155.00,587.00 156.00,586.51 157.00,585.95C158.00,585.40 159.00,584.86 160.00,584.27C161.00,583.67 162.00,583.02 163.00,582.37C164.00,581.73 165.00,581.03 166.00,580.42C167.00,579.82 168.00,579.22 169.00,578.74C170.00,578.26 171.00,577.85 172.00,577.53C173.00,577.20 174.00,576.99 175.00,576.79C176.00,576.60 177.00,576.50 178.00,576.37C179.00,576.24 180.00,576.16 181.00,576.02C182.00,575.89 183.00,575.75 184.00,575.55C185.00,575.36 186.00,575.12 187.00,574.86C188.00,574.59 189.00,574.28 190.00,573.97C191.00,573.65 192.00,573.31 193.00,572.97C194.00,572.64 195.00,572.28 196.00,571.93C197.00,571.58 198.00,571.22 199.00,570.86C200.00,570.50 201.00,570.14 202.00,569.78C203.00,569.43 204.00,569.07 205.00,568.72C206.00,568.37 207.00,568.03 208.00,567.68C209.00,567.33 210.00,566.98 211.00,566.63C212.00,566.27 213.00,565.91 214.00,565.55C215.00,565.18 216.00,564.81 217.00,564.44C218.00,564.07 219.00,563.69 220.00,563.32C221.00,562.95 222.00,562.59 223.00,562.22C224.00,561.86 225.00,561.50 226.00,561.11C227.00,560.72 228.00,560.31 229.00,559.87C230.00,559.43 231.00,558.92 232.00,558.48C233.00,558.03 234.00,557.59 235.00,557.21C236.00,556.83 237.00,556.52 238.00,556.19C239.00,555.87 240.00,555.58 241.00,555.27C242.00,554.96 243.00,554.64 244.00,554.32C245.00,553.99 246.00,553.65 247.00,553.32C248.00,552.99 249.00,552.65 250.00,552.33C251.00,552.01 252.00,551.70 253.00,551.40C254.00,551.09 255.00,550.80 256.00,550.51C257.00,550.21 258.00,549.92 259.00,549.61C260.00,549.31 261.00,549.00 262.00,548.68C263.00,548.36 264.00,548.03 265.00,547.71C266.00,547.38 267.00,547.05 268.00,546.73C269.00,546.41 270.00,546.09 271.00,545.78C272.00,545.47 273.00,545.18 274.00,544.89C275.00,544.60 276.00,544.31 277.00,544.04C278.00,543.77 279.00,543.50 280.00,543.24C281.00,542.99 282.00,542.74 283.00,542.50C284.00,542.27 285.00,542.04 286.00,541.82C287.00,541.60 288.00,541.40 289.00,541.18C290.00,540.97 291.00,540.76 292.00,540.53C293.00,540.29 294.00,540.05 295.00,539.76C296.00,539.48 297.00,539.15 298.00,538.81C299.00,538.47 300.00,538.09 301.00,537.72C302.00,537.35 303.00,536.97 304.00,536.61C305.00,536.25 306.00,535.89 307.00,535.54C308.00,535.18 309.00,534.84 310.00,534.49C311.00,534.14 312.00,533.79 313.00,533.44C314.00,533.10 315.00,532.74 316.00,532.42C317.00,532.09 318.00,531.79 319.00,531.50C320.00,531.21 321.00,530.97 322.00,530.69C323.00,530.41 324.00,530.15 325.00,529.81C326.00,529.46 327.00,529.07 328.00,528.62C329.00,528.17 330.00,527.62 331.00,527.10C332.00,526.58 333.00,526.03 334.00,525.51C335.00,524.98 336.00,524.50 337.00,523.95C338.00,523.39 339.00,522.83 340.00,522.16C341.00,521.48 342.00,520.72 343.00,519.90C344.00,519.07 345.00,518.15 346.00,517.20C347.00,516.26 348.00,515.27 349.00,514.21C350.00,513.15 351.00,512.08 352.00,510.87C353.00,509.65 354.00,508.36 355.00,506.91C356.00,505.47 357.00,503.89 358.00,502.20C359.00,500.50 360.00,498.67 361.00,496.72C362.00,494.78 363.00,492.60 364.00,490.52C365.00,488.44 366.00,486.21 367.00,484.23C368.00,482.24 369.39,479.84 370.00,478.61C370.61,477.38 370.55,477.15 370.66,476.86"/>
</g>
<g clip-path="url(#c21)" fill="none" stroke-width="1.7" stroke-linejoin="round" stroke-linecap="butt">
<path stroke="#0000ff" d="M384.99,576.46C385.49,576.55 386.99,576.82 387.99,577.00C388.99,577.18 389.99,577.35 390.99,577.52C391.99,577.69 392.99,577.86 393.99,578.00C394.99,578.15 395.99,578.30 396.99,578.39C397.99,578.49 398.99,578.55 399.99,578.57C400.99,578.59 401.99,578.52 402.99,578.49C403.99,578.46 404.99,578.38 405.99,578.38C406.99,578.38 407.99,578.42 408.99,578.49C409.99,578.56 410.99,578.68 411.99,578.79C412.99,578.91 413.99,579.05 414.99,579.16C415.99,579.27 416.99,579.39 417.99,579.44C418.99,579.50 419.99,579.52 420.99,579.49C421.99,579.46 422.99,579.38 423.99,579.28C424.99,579.19 425.99,579.05 426.99,578.92C427.99,578.79 428.99,578.64 429.99,578.50C430.99,578.36 431.99,578.22 432.99,578.09C433.99,577.95 434.99,577.81 435.99,577.69C436.99,577.57 437.99,577.46 438.99,577.37C439.99,577.28 440.99,577.21 441.99,577.13C442.99,577.05 443.99,576.98 444.99,576.88C445.99,576.78 446.99,576.65 447.99,576.52C448.99,576.38 449.99,576.23 450.99,576.08C451.99,575.93 452.99,575.78 453.99,575.63C454.99,575.48 455.99,575.33 456.99,575.18C457.99,575.04 458.99,574.89 459.99,574.76C460.99,574.63 461.99,574.52 462.99,574.42C463.99,574.31 464.99,574.23 465.99,574.13C466.99,574.03 467.99,573.93 468.99,573.82C469.99,573.71 470.99,573.57 471.99,573.45C472.99,573.33 473.99,573.20 474.99,573.11C475.99,573.02 476.99,572.95 477.99,572.91C478.99,572.87 479.99,572.87 480.99,572.88C481.99,572.88 482.99,572.92 483.99,572.94C484.99,572.95 485.99,572.98 486.99,572.98C487.99,572.99 488.99,572.98 489.99,572.96C490.99,572.94 491.99,572.91 492.99,572.87C493.99,572.84 494.99,572.79 495.99,572.73C496.99,572.68 497.99,572.62 498.99,572.54C499.99,572.47 500.99,572.39 501.99,572.29C502.99,572.19 503.99,572.08 504.99,571.95C505.99,571.81 506.99,571.67 507.99,571.49C508.99,571.32 509.99,571.12 510.99,570.90C511.99,570.67 512.99,570.42 513.99,570.15C514.99,569.88 515.99,569.58 516.99,569.30C517.99,569.01 518.99,568.71 519.99,568.44C520.99,568.17 521.99,567.90 522.99,567.68C523.99,567.45 524.99,567.27 525.99,567.08C526.99,566.89 527.99,566.75 528.99,566.56C529.99,566.37 530.99,566.17 531.99,565.92C532.99,565.67 533.99,565.37 534.99,565.07C535.99,564.76 537.15,564.41 537.99,564.10C538.82,563.79 539.66,563.35 540.00,563.20C540.50,562.92 542.00,562.07 543.00,561.54C544.00,561.00 545.00,560.35 546.00,559.99C547.00,559.62 548.00,559.51 549.00,559.36C550.00,559.22 551.00,559.22 552.00,559.11C553.00,559.00 554.00,558.84 555.00,558.70C556.00,558.57 557.00,558.50 558.00,558.32C559.00,558.15 560.00,557.88 561.00,557.64C562.00,557.39 563.00,557.10 564.00,556.83C565.00,556.56 566.00,556.29 567.00,556.03C568.00,555.78 569.00,555.55 570.00,555.31C571.00,555.07 572.00,555.12 573.00,554.58C574.00,554.05 575.00,552.79 576.00,552.10C577.00,551.42 578.00,550.59 579.00,550.47C580.00,550.34 581.00,550.99 582.00,551.36C583.00,551.73 584.00,552.38 585.00,552.69C586.00,552.99 587.00,553.15 588.00,553.20C589.00,553.25 590.00,553.05 591.00,552.99C592.00,552.92 593.00,552.85 594.00,552.82C595.00,552.78 596.00,552.78 597.00,552.76C598.00,552.74 599.00,552.73 600.00,552.71C601.00,552.69 602.00,552.67 603.00,552.65C604.00,552.63 605.00,552.61 606.00,552.59C607.00,552.57 608.00,552.56 609.00,552.54C610.00,552.52 611.00,552.51 612.00,552.49C613.00,552.47 614.00,552.46 615.00,552.44C616.00,552.43 617.00,552.41 618.00,552.39C619.00,552.38 620.00,552.36 621.00,552.34C622.00,552.33 623.00,552.30 624.00,552.28C625.00,552.26 626.00,552.24 627.00,552.22C628.00,552.20 629.00,552.18 630.00,552.16C631.00,552.15 632.00,552.14 633.00,552.13C634.00,552.13 635.00,552.13 636.00,552.14C637.00,552.14 638.00,552.16 639.00,552.17C640.00,552.19 641.00,552.21 642.00,552.23C643.00,552.25 644.00,552.27 645.00,552.30C646.00,552.32 647.00,552.33 648.00,552.35C649.00,552.37 650.00,552.39 651.00,552.41C652.00,552.43 653.00,552.44 654.00,552.46C655.00,552.48 656.00,552.50 657.00,552.51C658.00,552.53 659.00,552.55 660.00,552.56C661.00,552.57 662.00,552.58 663.00,552.59C664.00,552.60 665.00,552.61 666.00,552.62C667.00,552.62 668.00,552.62 669.00,552.60C670.00,552.59 671.00,552.56 672.00,552.52C673.00,552.49 674.00,552.44 675.00,552.39C676.00,552.34 677.00,552.28 678.00,552.22C679.00,552.16 680.00,552.10 681.00,552.03C682.00,551.96 683.18,551.88 684.00,551.82C684.82,551.76 685.60,551.70 685.92,551.67"/>
<path stroke="#32cd32" d="M384.99,588.92C385.49,589.01 386.99,589.30 387.99,589.47C388.99,589.64 389.99,589.80 390.99,589.93C391.99,590.07 392.99,590.18 393.99,590.29C394.99,590.39 395.99,590.47 396.99,590.56C397.99,590.65 398.99,590.72 399.99,590.81C400.99,590.89 401.99,590.99 402.99,591.07C403.99,591.14 404.99,591.23 405.99,591.26C406.99,591.29 407.99,591.28 408.99,591.24C409.99,591.20 410.99,591.12 411.99,591.03C412.99,590.94 413.99,590.83 414.99,590.69C415.99,590.55 416.99,590.37 417.99,590.19C418.99,590.01 419.99,589.81 420.99,589.61C421.99,589.41 422.99,589.20 423.99,589.00C424.99,588.80 425.99,588.60 426.99,588.41C427.99,588.22 428.99,588.04 429.99,587.88C430.99,587.72 431.99,587.58 432.99,587.44C433.99,587.30 434.99,587.18 435.99,587.05C436.99,586.92 437.99,586.79 438.99,586.67C439.99,586.54 440.99,586.43 441.99,586.31C442.99,586.18 443.99,586.06 444.99,585.90C445.99,585.75 446.99,585.58 447.99,585.38C448.99,585.19 449.99,584.97 450.99,584.75C451.99,584.52 452.99,584.28 453.99,584.04C454.99,583.79 455.99,583.54 456.99,583.28C457.99,583.02 458.99,582.75 459.99,582.47C460.99,582.18 461.99,581.89 462.99,581.58C463.99,581.28 464.99,580.95 465.99,580.64C466.99,580.34 467.99,580.03 468.99,579.76C469.99,579.50 470.99,579.27 471.99,579.07C472.99,578.86 473.99,578.70 474.99,578.53C475.99,578.37 476.99,578.23 477.99,578.09C478.99,577.96 479.99,577.83 480.99,577.72C481.99,577.61 482.99,577.51 483.99,577.42C484.99,577.34 485.99,577.27 486.99,577.19C487.99,577.11 488.99,577.05 489.99,576.96C490.99,576.88 491.99,576.79 492.99,576.67C493.99,576.55 494.99,576.42 495.99,576.25C496.99,576.08 497.99,575.89 498.99,575.67C499.99,575.46 500.99,575.22 501.99,574.97C502.99,574.71 503.99,574.43 504.99,574.13C505.99,573.83 506.99,573.51 507.99,573.16C508.99,572.81 509.99,572.43 510.99,572.03C511.99,571.63 512.99,571.21 513.99,570.78C514.99,570.34 515.99,569.88 516.99,569.42C517.99,568.97 518.99,568.48 519.99,568.03C520.99,567.58 521.99,567.12 522.99,566.73C523.99,566.33 524.99,565.97 525.99,565.64C526.99,565.30 527.99,565.03 528.99,564.72C529.99,564.42 530.99,564.13 531.99,563.80C532.99,563.46 533.99,563.10 534.99,562.73C535.99,562.36 537.15,561.95 537.99,561.58C538.82,561.21 539.66,560.68 540.00,560.50C540.50,560.08 542.00,558.75 543.00,557.96C544.00,557.17 545.00,556.23 546.00,555.74C547.00,555.25 548.00,555.16 549.00,555.01C550.00,554.86 551.00,554.98 552.00,554.84C553.00,554.70 554.00,554.36 555.00,554.19C556.00,554.01 557.00,553.96 558.00,553.79C559.00,553.62 560.00,553.40 561.00,553.14C562.00,552.89 563.00,552.60 564.00,552.26C565.00,551.92 566.00,551.49 567.00,551.11C568.00,550.73 569.00,550.32 570.00,549.96C571.00,549.61 572.00,549.62 573.00,548.98C574.00,548.33 575.00,546.92 576.00,546.07C577.00,545.22 578.00,544.04 579.00,543.87C580.00,543.70 581.00,544.57 582.00,545.07C583.00,545.56 584.00,546.38 585.00,546.82C586.00,547.27 587.00,547.59 588.00,547.73C589.00,547.87 590.00,547.68 591.00,547.66C592.00,547.64 593.00,547.58 594.00,547.59C595.00,547.59 596.00,547.68 597.00,547.72C598.00,547.75 599.00,547.79 600.00,547.81C601.00,547.84 602.00,547.86 603.00,547.86C604.00,547.87 605.00,547.86 606.00,547.86C607.00,547.86 608.00,547.85 609.00,547.86C610.00,547.88 611.00,547.91 612.00,547.95C613.00,547.98 614.00,548.04 615.00,548.08C616.00,548.12 617.00,548.17 618.00,548.20C619.00,548.23 620.00,548.26 621.00,548.27C622.00,548.28 623.00,548.28 624.00,548.27C625.00,548.27 626.00,548.25 627.00,548.24C628.00,548.24 629.00,548.22 630.00,548.22C631.00,548.22 632.00,548.23 633.00,548.25C634.00,548.27 635.00,548.31 636.00,548.36C637.00,548.41 638.00,548.48 639.00,548.55C640.00,548.62 641.00,548.71 642.00,548.79C643.00,548.86 644.00,548.95 645.00,549.01C646.00,549.08 647.00,549.13 648.00,549.18C649.00,549.22 650.00,549.25 651.00,549.28C652.00,549.30 653.00,549.32 654.00,549.33C655.00,549.35 656.00,549.36 657.00,549.37C658.00,549.38 659.00,549.38 660.00,549.39C661.00,549.40 662.00,549.41 663.00,549.42C664.00,549.43 665.00,549.44 666.00,549.44C667.00,549.44 668.00,549.44 669.00,549.43C670.00,549.41 671.00,549.39 672.00,549.35C673.00,549.31 674.00,549.26 675.00,549.20C676.00,549.15 677.00,549.09 678.00,549.04C679.00,548.98 680.00,548.94 681.00,548.90C682.00,548.85 683.18,548.82 684.00,548.79C684.82,548.76 685.60,548.74 685.92,548.73"/>
<path stroke="#00ffff" d="M385.00,636.80L410.00,636.80L411.00,630.50L412.50,630.00L413.50,624.50L417.00,624.00L418.00,619.00L419.50,613.50L421.50,613.00L423.50,608.50L426.00,605.00C426.50,604.65 428.00,603.55 429.00,602.91C430.00,602.26 431.00,601.66 432.00,601.12C433.00,600.58 434.00,600.14 435.00,599.68C436.00,599.23 437.00,598.82 438.00,598.37C439.00,597.92 440.00,597.46 441.00,596.98C442.00,596.50 443.00,596.00 444.00,595.50C445.00,595.01 446.00,594.50 447.00,594.01C448.00,593.52 449.00,593.04 450.00,592.58C451.00,592.11 452.00,591.67 453.00,591.22C454.00,590.77 455.00,590.33 456.00,589.89C457.00,589.45 458.00,588.99 459.00,588.56C460.00,588.13 461.00,587.69 462.00,587.32C463.00,586.95 464.00,586.61 465.00,586.34C466.00,586.06 467.00,585.88 468.00,585.66C469.00,585.44 470.00,585.26 471.00,585.00C472.00,584.75 473.00,584.44 474.00,584.14C475.00,583.83 476.00,583.48 477.00,583.18C478.00,582.88 479.00,582.58 480.00,582.33C481.00,582.09 482.00,581.88 483.00,581.70C484.00,581.53 485.00,581.41 486.00,581.30C487.00,581.19 488.00,581.14 489.00,581.05C490.00,580.96 491.00,580.90 492.00,580.76C493.00,580.62 494.00,580.46 495.00,580.21C496.00,579.96 497.00,579.62 498.00,579.25C499.00,578.87 500.00,578.42 501.00,577.96C502.00,577.50 503.00,577.00 504.00,576.51C505.00,576.01 506.00,575.51 507.00,575.00C508.00,574.48 509.00,573.97 510.00,573.42C511.00,572.87 512.00,572.30 513.00,571.70C514.00,571.10 515.00,570.46 516.00,569.82C517.00,569.17 518.00,568.49 519.00,567.85C520.00,567.20 521.00,566.55 522.00,565.96C523.00,565.37 524.00,564.83 525.00,564.31C526.00,563.78 527.00,563.33 528.00,562.82C529.00,562.31 530.00,561.81 531.00,561.23C532.00,560.66 533.00,560.03 534.00,559.36C535.00,558.69 536.00,557.96 537.00,557.23C538.00,556.51 539.50,555.37 540.00,555.00C540.50,554.67 542.00,553.77 543.00,553.05C544.00,552.32 545.00,551.21 546.00,550.66C547.00,550.10 548.00,549.83 549.00,549.69C550.00,549.55 551.00,549.90 552.00,549.83C553.00,549.75 554.00,549.39 555.00,549.24C556.00,549.08 557.00,549.06 558.00,548.90C559.00,548.74 560.00,548.53 561.00,548.28C562.00,548.02 563.00,547.73 564.00,547.39C565.00,547.05 566.00,546.62 567.00,546.24C568.00,545.85 569.00,545.45 570.00,545.09C571.00,544.74 572.00,544.81 573.00,544.09C574.00,543.36 575.00,541.72 576.00,540.74C577.00,539.76 578.00,538.44 579.00,538.20C580.00,537.96 581.00,538.82 582.00,539.30C583.00,539.79 584.00,540.62 585.00,541.12C586.00,541.62 587.00,542.11 588.00,542.29C589.00,542.48 590.00,542.25 591.00,542.22C592.00,542.20 593.00,542.14 594.00,542.15C595.00,542.16 596.00,542.24 597.00,542.28C598.00,542.32 599.00,542.35 600.00,542.37C601.00,542.40 602.00,542.42 603.00,542.42C604.00,542.43 605.00,542.42 606.00,542.41C607.00,542.41 608.00,542.40 609.00,542.42C610.00,542.44 611.00,542.49 612.00,542.55C613.00,542.61 614.00,542.69 615.00,542.76C616.00,542.82 617.00,542.89 618.00,542.94C619.00,542.99 620.00,543.03 621.00,543.06C622.00,543.08 623.00,543.07 624.00,543.07C625.00,543.07 626.00,543.04 627.00,543.03C628.00,543.02 629.00,543.00 630.00,543.00C631.00,543.00 632.00,543.00 633.00,543.03C634.00,543.06 635.00,543.10 636.00,543.16C637.00,543.22 638.00,543.31 639.00,543.40C640.00,543.48 641.00,543.58 642.00,543.68C643.00,543.77 644.00,543.87 645.00,543.96C646.00,544.05 647.00,544.13 648.00,544.20C649.00,544.27 650.00,544.33 651.00,544.39C652.00,544.45 653.00,544.50 654.00,544.55C655.00,544.61 656.00,544.65 657.00,544.70C658.00,544.74 659.00,544.79 660.00,544.82C661.00,544.86 662.00,544.89 663.00,544.91C664.00,544.93 665.00,544.94 666.00,544.94C667.00,544.94 668.00,544.92 669.00,544.90C670.00,544.88 671.00,544.86 672.00,544.82C673.00,544.78 674.00,544.73 675.00,544.68C676.00,544.63 677.00,544.57 678.00,544.51C679.00,544.45 680.00,544.39 681.00,544.33C682.00,544.26 683.18,544.17 684.00,544.11C684.82,544.05 685.60,543.99 685.92,543.97"/>
<path stroke="#ff0000" d="M385.00,636.80L432.00,636.80L433.50,632.50L435.00,626.00L437.50,625.50L439.00,623.00L442.00,621.00L445.00,619.00L448.00,616.00L450.50,613.00L452.50,608.50L455.00,605.00L458.00,601.50C458.50,601.17 460.00,600.19 461.00,599.54C462.00,598.89 463.00,598.25 464.00,597.60C465.00,596.95 466.00,596.30 467.00,595.64C468.00,594.97 469.00,594.30 470.00,593.64C471.00,592.97 472.00,592.30 473.00,591.63C474.00,590.97 475.00,590.29 476.00,589.65C477.00,589.01 478.00,588.35 479.00,587.78C480.00,587.21 481.00,586.67 482.00,586.24C483.00,585.81 484.00,585.48 485.00,585.19C486.00,584.90 487.00,584.73 488.00,584.49C489.00,584.26 490.00,584.07 491.00,583.78C492.00,583.50 493.00,583.17 494.00,582.79C495.00,582.40 496.00,581.94 497.00,581.47C498.00,581.00 499.00,580.49 500.00,579.96C501.00,579.43 502.00,578.88 503.00,578.29C504.00,577.71 505.00,577.08 506.00,576.44C507.00,575.80 508.00,575.13 509.00,574.45C510.00,573.78 511.00,573.08 512.00,572.39C513.00,571.70 514.00,570.99 515.00,570.30C516.00,569.61 517.00,568.90 518.00,568.24C519.00,567.57 520.00,566.91 521.00,566.32C522.00,565.73 523.00,565.19 524.00,564.70C525.00,564.20 526.00,563.79 527.00,563.35C528.00,562.92 529.00,562.52 530.00,562.07C531.00,561.63 532.00,561.16 533.00,560.68C534.00,560.20 535.00,559.70 536.00,559.20C537.00,558.70 538.33,558.03 539.00,557.70C539.67,557.37 539.83,557.28 540.00,557.20C540.50,556.86 542.00,555.82 543.00,555.13C544.00,554.44 545.00,553.51 546.00,553.07C547.00,552.63 548.00,552.58 549.00,552.49C550.00,552.39 551.00,552.61 552.00,552.49C553.00,552.36 554.00,551.91 555.00,551.75C556.00,551.58 557.00,551.62 558.00,551.50C559.00,551.38 560.00,551.24 561.00,551.04C562.00,550.85 563.00,550.62 564.00,550.33C565.00,550.05 566.00,549.66 567.00,549.32C568.00,548.97 569.00,548.60 570.00,548.26C571.00,547.92 572.00,547.93 573.00,547.28C574.00,546.63 575.00,545.23 576.00,544.36C577.00,543.50 578.00,542.26 579.00,542.10C580.00,541.94 581.00,542.85 582.00,543.40C583.00,543.95 584.00,544.87 585.00,545.38C586.00,545.89 587.00,546.31 588.00,546.49C589.00,546.66 590.00,546.43 591.00,546.41C592.00,546.39 593.00,546.34 594.00,546.37C595.00,546.39 596.00,546.50 597.00,546.56C598.00,546.62 599.00,546.68 600.00,546.73C601.00,546.77 602.00,546.81 603.00,546.83C604.00,546.85 605.00,546.85 606.00,546.86C607.00,546.86 608.00,546.84 609.00,546.85C610.00,546.86 611.00,546.88 612.00,546.91C613.00,546.93 614.00,546.97 615.00,547.00C616.00,547.03 617.00,547.06 618.00,547.09C619.00,547.11 620.00,547.13 621.00,547.14C622.00,547.15 623.00,547.14 624.00,547.14C625.00,547.14 626.00,547.12 627.00,547.12C628.00,547.11 629.00,547.10 630.00,547.10C631.00,547.10 632.00,547.10 633.00,547.12C634.00,547.14 635.00,547.16 636.00,547.20C637.00,547.24 638.00,547.29 639.00,547.34C640.00,547.39 641.00,547.45 642.00,547.51C643.00,547.56 644.00,547.62 645.00,547.68C646.00,547.73 647.00,547.78 648.00,547.82C649.00,547.87 650.00,547.91 651.00,547.94C652.00,547.98 653.00,548.02 654.00,548.05C655.00,548.09 656.00,548.12 657.00,548.15C658.00,548.18 659.00,548.21 660.00,548.24C661.00,548.26 662.00,548.28 663.00,548.30C664.00,548.31 665.00,548.32 666.00,548.32C667.00,548.32 668.00,548.32 669.00,548.30C670.00,548.28 671.00,548.26 672.00,548.22C673.00,548.18 674.00,548.13 675.00,548.08C676.00,548.03 677.00,547.97 678.00,547.91C679.00,547.85 680.00,547.79 681.00,547.73C682.00,547.66 683.18,547.57 684.00,547.51C684.82,547.45 685.60,547.39 685.92,547.37"/>
<path stroke="#ff00ff" d="M385.00,636.80L421.00,636.80L422.00,630.50L425.00,630.00L426.50,624.50L428.50,623.50L433.00,623.80L435.00,622.00L438.50,620.50L439.50,614.00L441.50,612.50L444.00,607.50L447.00,604.50C447.50,604.20 449.00,603.27 450.00,602.70C451.00,602.13 452.00,601.58 453.00,601.08C454.00,600.58 455.00,600.14 456.00,599.69C457.00,599.23 458.00,598.83 459.00,598.36C460.00,597.89 461.00,597.41 462.00,596.87C463.00,596.32 464.00,595.69 465.00,595.08C466.00,594.46 467.00,593.78 468.00,593.17C469.00,592.57 470.00,592.00 471.00,591.45C472.00,590.90 473.00,590.42 474.00,589.89C475.00,589.36 476.00,588.82 477.00,588.29C478.00,587.76 479.00,587.19 480.00,586.73C481.00,586.27 482.00,585.86 483.00,585.53C484.00,585.21 485.00,585.01 486.00,584.79C487.00,584.57 488.00,584.44 489.00,584.23C490.00,584.01 491.00,583.79 492.00,583.48C493.00,583.17 494.00,582.79 495.00,582.38C496.00,581.96 497.00,581.48 498.00,580.99C499.00,580.50 500.00,579.98 501.00,579.43C502.00,578.88 503.00,578.30 504.00,577.70C505.00,577.09 506.00,576.45 507.00,575.79C508.00,575.14 509.00,574.46 510.00,573.77C511.00,573.08 512.00,572.37 513.00,571.64C514.00,570.90 515.00,570.14 516.00,569.38C517.00,568.63 518.00,567.83 519.00,567.10C520.00,566.37 521.00,565.65 522.00,564.99C523.00,564.34 524.00,563.75 525.00,563.19C526.00,562.63 527.00,562.16 528.00,561.62C529.00,561.09 530.00,560.59 531.00,560.00C532.00,559.41 533.00,558.76 534.00,558.09C535.00,557.42 536.00,556.69 537.00,555.97C538.00,555.26 539.50,554.16 540.00,553.80C540.50,553.31 542.00,551.86 543.00,550.88C544.00,549.91 545.00,548.63 546.00,547.94C547.00,547.24 548.00,546.93 549.00,546.72C550.00,546.52 551.00,546.85 552.00,546.71C553.00,546.56 554.00,546.05 555.00,545.85C556.00,545.65 557.00,545.66 558.00,545.50C559.00,545.34 560.00,545.13 561.00,544.88C562.00,544.63 563.00,544.33 564.00,543.99C565.00,543.65 566.00,543.22 567.00,542.84C568.00,542.46 569.00,542.07 570.00,541.70C571.00,541.34 572.00,541.46 573.00,540.65C574.00,539.84 575.00,537.91 576.00,536.83C577.00,535.75 578.00,534.38 579.00,534.16C580.00,533.95 581.00,534.91 582.00,535.54C583.00,536.17 584.00,537.32 585.00,537.96C586.00,538.61 587.00,539.19 588.00,539.39C589.00,539.60 590.00,539.23 591.00,539.19C592.00,539.15 593.00,539.11 594.00,539.14C595.00,539.18 596.00,539.32 597.00,539.40C598.00,539.48 599.00,539.56 600.00,539.63C601.00,539.69 602.00,539.76 603.00,539.79C604.00,539.83 605.00,539.82 606.00,539.84C607.00,539.85 608.00,539.84 609.00,539.90C610.00,539.95 611.00,540.07 612.00,540.19C613.00,540.31 614.00,540.48 615.00,540.62C616.00,540.75 617.00,540.90 618.00,541.01C619.00,541.11 620.00,541.19 621.00,541.24C622.00,541.29 623.00,541.30 624.00,541.30C625.00,541.30 626.00,541.28 627.00,541.26C628.00,541.25 629.00,541.22 630.00,541.21C631.00,541.21 632.00,541.20 633.00,541.22C634.00,541.25 635.00,541.29 636.00,541.35C637.00,541.41 638.00,541.50 639.00,541.58C640.00,541.67 641.00,541.77 642.00,541.86C643.00,541.96 644.00,542.06 645.00,542.15C646.00,542.23 647.00,542.31 648.00,542.38C649.00,542.46 650.00,542.52 651.00,542.57C652.00,542.63 653.00,542.69 654.00,542.74C655.00,542.79 656.00,542.84 657.00,542.89C658.00,542.93 659.00,542.97 660.00,543.01C661.00,543.04 662.00,543.08 663.00,543.09C664.00,543.11 665.00,543.13 666.00,543.12C667.00,543.12 668.00,543.11 669.00,543.09C670.00,543.07 671.00,543.04 672.00,543.01C673.00,542.97 674.00,542.92 675.00,542.87C676.00,542.82 677.00,542.76 678.00,542.70C679.00,542.64 680.00,542.58 681.00,542.51C682.00,542.45 683.18,542.36 684.00,542.30C684.82,542.24 685.60,542.18 685.92,542.15"/>
</g>
<g><line x1="130.20" y1="217.00" x2="130.20" y2="213.00" stroke="#000" stroke-width="0.62" stroke-opacity="1"/><line x1="130.20" y1="14.00" x2="130.20" y2="18.00" stroke="#000" stroke-width="0.62" stroke-opacity="1"/><line x1="190.40" y1="217.00" x2="190.40" y2="213.00" stroke="#000" stroke-width="0.62" stroke-opacity="1"/><line x1="190.40" y1="14.00" x2="190.40" y2="18.00" stroke="#000" stroke-width="0.62" stroke-opacity="1"/><line x1="250.60" y1="217.00" x2="250.60" y2="213.00" stroke="#000" stroke-width="0.62" stroke-opacity="1"/><line x1="250.60" y1="14.00" x2="250.60" y2="18.00" stroke="#000" stroke-width="0.62" stroke-opacity="1"/><line x1="310.80" y1="217.00" x2="310.80" y2="213.00" stroke="#000" stroke-width="0.62" stroke-opacity="1"/><line x1="310.80" y1="14.00" x2="310.80" y2="18.00" stroke="#000" stroke-width="0.62" stroke-opacity="1"/><line x1="70.00" y1="176.40" x2="74.00" y2="176.40" stroke="#000" stroke-width="0.62" stroke-opacity="1"/><line x1="371.00" y1="176.40" x2="367.00" y2="176.40" stroke="#000" stroke-width="0.62" stroke-opacity="1"/><line x1="70.00" y1="135.80" x2="74.00" y2="135.80" stroke="#000" stroke-width="0.62" stroke-opacity="1"/><line x1="371.00" y1="135.80" x2="367.00" y2="135.80" stroke="#000" stroke-width="0.62" stroke-opacity="1"/><line x1="70.00" y1="95.20" x2="74.00" y2="95.20" stroke="#000" stroke-width="0.62" stroke-opacity="1"/><line x1="371.00" y1="95.20" x2="367.00" y2="95.20" stroke="#000" stroke-width="0.62" stroke-opacity="1"/><line x1="70.00" y1="54.60" x2="74.00" y2="54.60" stroke="#000" stroke-width="0.62" stroke-opacity="1"/><line x1="371.00" y1="54.60" x2="367.00" y2="54.60" stroke="#000" stroke-width="0.62" stroke-opacity="1"/><line x1="130.20" y1="427.00" x2="130.20" y2="423.00" stroke="#000" stroke-width="0.62" stroke-opacity="1"/><line x1="130.20" y1="224.00" x2="130.20" y2="228.00" stroke="#000" stroke-width="0.62" stroke-opacity="1"/><line x1="190.40" y1="427.00" x2="190.40" y2="423.00" stroke="#000" stroke-width="0.62" stroke-opacity="1"/><line x1="190.40" y1="224.00" x2="190.40" y2="228.00" stroke="#000" stroke-width="0.62" stroke-opacity="1"/><line x1="250.60" y1="427.00" x2="250.60" y2="423.00" stroke="#000" stroke-width="0.62" stroke-opacity="1"/><line x1="250.60" y1="224.00" x2="250.60" y2="228.00" stroke="#000" stroke-width="0.62" stroke-opacity="1"/><line x1="310.80" y1="427.00" x2="310.80" y2="423.00" stroke="#000" stroke-width="0.62" stroke-opacity="1"/><line x1="310.80" y1="224.00" x2="310.80" y2="228.00" stroke="#000" stroke-width="0.62" stroke-opacity="1"/><line x1="70.00" y1="403.52" x2="72.00" y2="403.52" stroke="#000" stroke-width="0.62" stroke-opacity="1"/><line x1="371.00" y1="403.52" x2="369.00" y2="403.52" stroke="#000" stroke-width="0.62" stroke-opacity="1"/><line x1="70.00" y1="389.78" x2="72.00" y2="389.78" stroke="#000" stroke-width="0.62" stroke-opacity="1"/><line x1="371.00" y1="389.78" x2="369.00" y2="389.78" stroke="#000" stroke-width="0.62" stroke-opacity="1"/><line x1="70.00" y1="380.04" x2="72.00" y2="380.04" stroke="#000" stroke-width="0.62" stroke-opacity="1"/><line x1="371.00" y1="380.04" x2="369.00" y2="380.04" stroke="#000" stroke-width="0.62" stroke-opacity="1"/><line x1="70.00" y1="372.48" x2="72.00" y2="372.48" stroke="#000" stroke-width="0.62" stroke-opacity="1"/><line x1="371.00" y1="372.48" x2="369.00" y2="372.48" stroke="#000" stroke-width="0.62" stroke-opacity="1"/><line x1="70.00" y1="366.30" x2="72.00" y2="366.30" stroke="#000" stroke-width="0.62" stroke-opacity="1"/><line x1="371.00" y1="366.30" x2="369.00" y2="366.30" stroke="#000" stroke-width="0.62" stroke-opacity="1"/><line x1="70.00" y1="361.08" x2="72.00" y2="361.08" stroke="#000" stroke-width="0.62" stroke-opacity="1"/><line x1="371.00" y1="361.08" x2="369.00" y2="361.08" stroke="#000" stroke-width="0.62" stroke-opacity="1"/><line x1="70.00" y1="356.56" x2="72.00" y2="356.56" stroke="#000" stroke-width="0.62" stroke-opacity="1"/><line x1="371.00" y1="356.56" x2="369.00" y2="356.56" stroke="#000" stroke-width="0.62" stroke-opacity="1"/><line x1="70.00" y1="352.57" x2="72.00" y2="352.57" stroke="#000" stroke-width="0.62" stroke-opacity="1"/><line x1="371.00" y1="352.57" x2="369.00" y2="352.57" stroke="#000" stroke-width="0.62" stroke-opacity="1"/><line x1="70.00" y1="349.00" x2="74.00" y2="349.00" stroke="#000" stroke-width="0.62" stroke-opacity="1"/><line x1="371.00" y1="349.00" x2="367.00" y2="349.00" stroke="#000" stroke-width="0.62" stroke-opacity="1"/><line x1="70.00" y1="325.52" x2="72.00" y2="325.52" stroke="#000" stroke-width="0.62" stroke-opacity="1"/><line x1="371.00" y1="325.52" x2="369.00" y2="325.52" stroke="#000" stroke-width="0.62" stroke-opacity="1"/><line x1="70.00" y1="311.78" x2="72.00" y2="311.78" stroke="#000" stroke-width="0.62" stroke-opacity="1"/><line x1="371.00" y1="311.78" x2="369.00" y2="311.78" stroke="#000" stroke-width="0.62" stroke-opacity="1"/><line x1="70.00" y1="302.04" x2="72.00" y2="302.04" stroke="#000" stroke-width="0.62" stroke-opacity="1"/><line x1="371.00" y1="302.04" x2="369.00" y2="302.04" stroke="#000" stroke-width="0.62" stroke-opacity="1"/><line x1="70.00" y1="294.48" x2="72.00" y2="294.48" stroke="#000" stroke-width="0.62" stroke-opacity="1"/><line x1="371.00" y1="294.48" x2="369.00" y2="294.48" stroke="#000" stroke-width="0.62" stroke-opacity="1"/><line x1="70.00" y1="288.30" x2="72.00" y2="288.30" stroke="#000" stroke-width="0.62" stroke-opacity="1"/><line x1="371.00" y1="288.30" x2="369.00" y2="288.30" stroke="#000" stroke-width="0.62" stroke-opacity="1"/><line x1="70.00" y1="283.08" x2="72.00" y2="283.08" stroke="#000" stroke-width="0.62" stroke-opacity="1"/><line x1="371.00" y1="283.08" x2="369.00" y2="283.08" stroke="#000" stroke-width="0.62" stroke-opacity="1"/><line x1="70.00" y1="278.56" x2="72.00" y2="278.56" stroke="#000" stroke-width="0.62" stroke-opacity="1"/><line x1="371.00" y1="278.56" x2="369.00" y2="278.56" stroke="#000" stroke-width="0.62" stroke-opacity="1"/><line x1="70.00" y1="274.57" x2="72.00" y2="274.57" stroke="#000" stroke-width="0.62" stroke-opacity="1"/><line x1="371.00" y1="274.57" x2="369.00" y2="274.57" stroke="#000" stroke-width="0.62" stroke-opacity="1"/><line x1="70.00" y1="271.00" x2="74.00" y2="271.00" stroke="#000" stroke-width="0.62" stroke-opacity="1"/><line x1="371.00" y1="271.00" x2="367.00" y2="271.00" stroke="#000" stroke-width="0.62" stroke-opacity="1"/><line x1="70.00" y1="247.52" x2="72.00" y2="247.52" stroke="#000" stroke-width="0.62" stroke-opacity="1"/><line x1="371.00" y1="247.52" x2="369.00" y2="247.52" stroke="#000" stroke-width="0.62" stroke-opacity="1"/><line x1="70.00" y1="233.78" x2="72.00" y2="233.78" stroke="#000" stroke-width="0.62" stroke-opacity="1"/><line x1="371.00" y1="233.78" x2="369.00" y2="233.78" stroke="#000" stroke-width="0.62" stroke-opacity="1"/><line x1="130.20" y1="637.00" x2="130.20" y2="633.00" stroke="#000" stroke-width="0.62" stroke-opacity="1"/><line x1="130.20" y1="434.00" x2="130.20" y2="438.00" stroke="#000" stroke-width="0.62" stroke-opacity="1"/><line x1="190.40" y1="637.00" x2="190.40" y2="633.00" stroke="#000" stroke-width="0.62" stroke-opacity="1"/><line x1="190.40" y1="434.00" x2="190.40" y2="438.00" stroke="#000" stroke-width="0.62" stroke-opacity="1"/><line x1="250.60" y1="637.00" x2="250.60" y2="633.00" stroke="#000" stroke-width="0.62" stroke-opacity="1"/><line x1="250.60" y1="434.00" x2="250.60" y2="438.00" stroke="#000" stroke-width="0.62" stroke-opacity="1"/><line x1="310.80" y1="637.00" x2="310.80" y2="633.00" stroke="#000" stroke-width="0.62" stroke-opacity="1"/><line x1="310.80" y1="434.00" x2="310.80" y2="438.00" stroke="#000" stroke-width="0.62" stroke-opacity="1"/><line x1="70.00" y1="596.40" x2="74.00" y2="596.40" stroke="#000" stroke-width="0.62" stroke-opacity="1"/><line x1="371.00" y1="596.40" x2="367.00" y2="596.40" stroke="#000" stroke-width="0.62" stroke-opacity="1"/><line x1="70.00" y1="555.80" x2="74.00" y2="555.80" stroke="#000" stroke-width="0.62" stroke-opacity="1"/><line x1="371.00" y1="555.80" x2="367.00" y2="555.80" stroke="#000" stroke-width="0.62" stroke-opacity="1"/><line x1="70.00" y1="515.20" x2="74.00" y2="515.20" stroke="#000" stroke-width="0.62" stroke-opacity="1"/><line x1="371.00" y1="515.20" x2="367.00" y2="515.20" stroke="#000" stroke-width="0.62" stroke-opacity="1"/><line x1="70.00" y1="474.60" x2="74.00" y2="474.60" stroke="#000" stroke-width="0.62" stroke-opacity="1"/><line x1="371.00" y1="474.60" x2="367.00" y2="474.60" stroke="#000" stroke-width="0.62" stroke-opacity="1"/><line x1="445.20" y1="217.00" x2="445.20" y2="213.00" stroke="#000" stroke-width="0.62" stroke-opacity="1"/><line x1="445.20" y1="14.00" x2="445.20" y2="18.00" stroke="#000" stroke-width="0.62" stroke-opacity="1"/><line x1="505.40" y1="217.00" x2="505.40" y2="213.00" stroke="#000" stroke-width="0.62" stroke-opacity="1"/><line x1="505.40" y1="14.00" x2="505.40" y2="18.00" stroke="#000" stroke-width="0.62" stroke-opacity="1"/><line x1="565.60" y1="217.00" x2="565.60" y2="213.00" stroke="#000" stroke-width="0.62" stroke-opacity="1"/><line x1="565.60" y1="14.00" x2="565.60" y2="18.00" stroke="#000" stroke-width="0.62" stroke-opacity="1"/><line x1="625.80" y1="217.00" x2="625.80" y2="213.00" stroke="#000" stroke-width="0.62" stroke-opacity="1"/><line x1="625.80" y1="14.00" x2="625.80" y2="18.00" stroke="#000" stroke-width="0.62" stroke-opacity="1"/><line x1="385.00" y1="176.40" x2="389.00" y2="176.40" stroke="#000" stroke-width="0.62" stroke-opacity="1"/><line x1="686.00" y1="176.40" x2="682.00" y2="176.40" stroke="#000" stroke-width="0.62" stroke-opacity="1"/><line x1="385.00" y1="135.80" x2="389.00" y2="135.80" stroke="#000" stroke-width="0.62" stroke-opacity="1"/><line x1="686.00" y1="135.80" x2="682.00" y2="135.80" stroke="#000" stroke-width="0.62" stroke-opacity="1"/><line x1="385.00" y1="95.20" x2="389.00" y2="95.20" stroke="#000" stroke-width="0.62" stroke-opacity="1"/><line x1="686.00" y1="95.20" x2="682.00" y2="95.20" stroke="#000" stroke-width="0.62" stroke-opacity="1"/><line x1="385.00" y1="54.60" x2="389.00" y2="54.60" stroke="#000" stroke-width="0.62" stroke-opacity="1"/><line x1="686.00" y1="54.60" x2="682.00" y2="54.60" stroke="#000" stroke-width="0.62" stroke-opacity="1"/><line x1="445.20" y1="427.00" x2="445.20" y2="423.00" stroke="#000" stroke-width="0.62" stroke-opacity="1"/><line x1="445.20" y1="224.00" x2="445.20" y2="228.00" stroke="#000" stroke-width="0.62" stroke-opacity="1"/><line x1="505.40" y1="427.00" x2="505.40" y2="423.00" stroke="#000" stroke-width="0.62" stroke-opacity="1"/><line x1="505.40" y1="224.00" x2="505.40" y2="228.00" stroke="#000" stroke-width="0.62" stroke-opacity="1"/><line x1="565.60" y1="427.00" x2="565.60" y2="423.00" stroke="#000" stroke-width="0.62" stroke-opacity="1"/><line x1="565.60" y1="224.00" x2="565.60" y2="228.00" stroke="#000" stroke-width="0.62" stroke-opacity="1"/><line x1="625.80" y1="427.00" x2="625.80" y2="423.00" stroke="#000" stroke-width="0.62" stroke-opacity="1"/><line x1="625.80" y1="224.00" x2="625.80" y2="228.00" stroke="#000" stroke-width="0.62" stroke-opacity="1"/><line x1="385.00" y1="403.52" x2="387.00" y2="403.52" stroke="#000" stroke-width="0.62" stroke-opacity="1"/><line x1="686.00" y1="403.52" x2="684.00" y2="403.52" stroke="#000" stroke-width="0.62" stroke-opacity="1"/><line x1="385.00" y1="389.78" x2="387.00" y2="389.78" stroke="#000" stroke-width="0.62" stroke-opacity="1"/><line x1="686.00" y1="389.78" x2="684.00" y2="389.78" stroke="#000" stroke-width="0.62" stroke-opacity="1"/><line x1="385.00" y1="380.04" x2="387.00" y2="380.04" stroke="#000" stroke-width="0.62" stroke-opacity="1"/><line x1="686.00" y1="380.04" x2="684.00" y2="380.04" stroke="#000" stroke-width="0.62" stroke-opacity="1"/><line x1="385.00" y1="372.48" x2="387.00" y2="372.48" stroke="#000" stroke-width="0.62" stroke-opacity="1"/><line x1="686.00" y1="372.48" x2="684.00" y2="372.48" stroke="#000" stroke-width="0.62" stroke-opacity="1"/><line x1="385.00" y1="366.30" x2="387.00" y2="366.30" stroke="#000" stroke-width="0.62" stroke-opacity="1"/><line x1="686.00" y1="366.30" x2="684.00" y2="366.30" stroke="#000" stroke-width="0.62" stroke-opacity="1"/><line x1="385.00" y1="361.08" x2="387.00" y2="361.08" stroke="#000" stroke-width="0.62" stroke-opacity="1"/><line x1="686.00" y1="361.08" x2="684.00" y2="361.08" stroke="#000" stroke-width="0.62" stroke-opacity="1"/><line x1="385.00" y1="356.56" x2="387.00" y2="356.56" stroke="#000" stroke-width="0.62" stroke-opacity="1"/><line x1="686.00" y1="356.56" x2="684.00" y2="356.56" stroke="#000" stroke-width="0.62" stroke-opacity="1"/><line x1="385.00" y1="352.57" x2="387.00" y2="352.57" stroke="#000" stroke-width="0.62" stroke-opacity="1"/><line x1="686.00" y1="352.57" x2="684.00" y2="352.57" stroke="#000" stroke-width="0.62" stroke-opacity="1"/><line x1="385.00" y1="349.00" x2="389.00" y2="349.00" stroke="#000" stroke-width="0.62" stroke-opacity="1"/><line x1="686.00" y1="349.00" x2="682.00" y2="349.00" stroke="#000" stroke-width="0.62" stroke-opacity="1"/><line x1="385.00" y1="325.52" x2="387.00" y2="325.52" stroke="#000" stroke-width="0.62" stroke-opacity="1"/><line x1="686.00" y1="325.52" x2="684.00" y2="325.52" stroke="#000" stroke-width="0.62" stroke-opacity="1"/><line x1="385.00" y1="311.78" x2="387.00" y2="311.78" stroke="#000" stroke-width="0.62" stroke-opacity="1"/><line x1="686.00" y1="311.78" x2="684.00" y2="311.78" stroke="#000" stroke-width="0.62" stroke-opacity="1"/><line x1="385.00" y1="302.04" x2="387.00" y2="302.04" stroke="#000" stroke-width="0.62" stroke-opacity="1"/><line x1="686.00" y1="302.04" x2="684.00" y2="302.04" stroke="#000" stroke-width="0.62" stroke-opacity="1"/><line x1="385.00" y1="294.48" x2="387.00" y2="294.48" stroke="#000" stroke-width="0.62" stroke-opacity="1"/><line x1="686.00" y1="294.48" x2="684.00" y2="294.48" stroke="#000" stroke-width="0.62" stroke-opacity="1"/><line x1="385.00" y1="288.30" x2="387.00" y2="288.30" stroke="#000" stroke-width="0.62" stroke-opacity="1"/><line x1="686.00" y1="288.30" x2="684.00" y2="288.30" stroke="#000" stroke-width="0.62" stroke-opacity="1"/><line x1="385.00" y1="283.08" x2="387.00" y2="283.08" stroke="#000" stroke-width="0.62" stroke-opacity="1"/><line x1="686.00" y1="283.08" x2="684.00" y2="283.08" stroke="#000" stroke-width="0.62" stroke-opacity="1"/><line x1="385.00" y1="278.56" x2="387.00" y2="278.56" stroke="#000" stroke-width="0.62" stroke-opacity="1"/><line x1="686.00" y1="278.56" x2="684.00" y2="278.56" stroke="#000" stroke-width="0.62" stroke-opacity="1"/><line x1="385.00" y1="274.57" x2="387.00" y2="274.57" stroke="#000" stroke-width="0.62" stroke-opacity="1"/><line x1="686.00" y1="274.57" x2="684.00" y2="274.57" stroke="#000" stroke-width="0.62" stroke-opacity="1"/><line x1="385.00" y1="271.00" x2="389.00" y2="271.00" stroke="#000" stroke-width="0.62" stroke-opacity="1"/><line x1="686.00" y1="271.00" x2="682.00" y2="271.00" stroke="#000" stroke-width="0.62" stroke-opacity="1"/><line x1="385.00" y1="247.52" x2="387.00" y2="247.52" stroke="#000" stroke-width="0.62" stroke-opacity="1"/><line x1="686.00" y1="247.52" x2="684.00" y2="247.52" stroke="#000" stroke-width="0.62" stroke-opacity="1"/><line x1="385.00" y1="233.78" x2="387.00" y2="233.78" stroke="#000" stroke-width="0.62" stroke-opacity="1"/><line x1="686.00" y1="233.78" x2="684.00" y2="233.78" stroke="#000" stroke-width="0.62" stroke-opacity="1"/><line x1="445.20" y1="637.00" x2="445.20" y2="633.00" stroke="#000" stroke-width="0.62" stroke-opacity="1"/><line x1="445.20" y1="434.00" x2="445.20" y2="438.00" stroke="#000" stroke-width="0.62" stroke-opacity="1"/><line x1="505.40" y1="637.00" x2="505.40" y2="633.00" stroke="#000" stroke-width="0.62" stroke-opacity="1"/><line x1="505.40" y1="434.00" x2="505.40" y2="438.00" stroke="#000" stroke-width="0.62" stroke-opacity="1"/><line x1="565.60" y1="637.00" x2="565.60" y2="633.00" stroke="#000" stroke-width="0.62" stroke-opacity="1"/><line x1="565.60" y1="434.00" x2="565.60" y2="438.00" stroke="#000" stroke-width="0.62" stroke-opacity="1"/><line x1="625.80" y1="637.00" x2="625.80" y2="633.00" stroke="#000" stroke-width="0.62" stroke-opacity="1"/><line x1="625.80" y1="434.00" x2="625.80" y2="438.00" stroke="#000" stroke-width="0.62" stroke-opacity="1"/><line x1="385.00" y1="596.40" x2="389.00" y2="596.40" stroke="#000" stroke-width="0.62" stroke-opacity="1"/><line x1="686.00" y1="596.40" x2="682.00" y2="596.40" stroke="#000" stroke-width="0.62" stroke-opacity="1"/><line x1="385.00" y1="555.80" x2="389.00" y2="555.80" stroke="#000" stroke-width="0.62" stroke-opacity="1"/><line x1="686.00" y1="555.80" x2="682.00" y2="555.80" stroke="#000" stroke-width="0.62" stroke-opacity="1"/><line x1="385.00" y1="515.20" x2="389.00" y2="515.20" stroke="#000" stroke-width="0.62" stroke-opacity="1"/><line x1="686.00" y1="515.20" x2="682.00" y2="515.20" stroke="#000" stroke-width="0.62" stroke-opacity="1"/><line x1="385.00" y1="474.60" x2="389.00" y2="474.60" stroke="#000" stroke-width="0.62" stroke-opacity="1"/><line x1="686.00" y1="474.60" x2="682.00" y2="474.60" stroke="#000" stroke-width="0.62" stroke-opacity="1"/></g>
<rect x="70" y="14" width="301" height="203" fill="none" stroke="#000" stroke-width="1" stroke-opacity="1"/>
<rect x="70" y="224" width="301" height="203" fill="none" stroke="#000" stroke-width="1" stroke-opacity="1"/>
<rect x="70" y="434" width="301" height="203" fill="none" stroke="#000" stroke-width="1" stroke-opacity="1"/>
<rect x="385" y="14" width="301" height="203" fill="none" stroke="#000" stroke-width="1" stroke-opacity="1"/>
<rect x="385" y="224" width="301" height="203" fill="none" stroke="#000" stroke-width="1" stroke-opacity="1"/>
<rect x="385" y="434" width="301" height="203" fill="none" stroke="#000" stroke-width="1" stroke-opacity="1"/>
<g font-family="'Liberation Serif', serif" font-size="17" fill="#000" opacity="0.999">
<text x="60.5" y="222.8" text-anchor="end" >0</text>
<text x="60.5" y="182.20000000000002" text-anchor="end" >20</text>
<text x="60.5" y="141.60000000000002" text-anchor="end" >40</text>
<text x="60.5" y="101.00000000000001" text-anchor="end" >60</text>
<text x="60.5" y="60.40000000000002" text-anchor="end" >80</text>
<text x="60.5" y="19.80000000000003" text-anchor="end" >100</text>
<text x="60.5" y="642.8" text-anchor="end" >0</text>
<text x="60.5" y="602.1999999999999" text-anchor="end" >2</text>
<text x="60.5" y="561.5999999999999" text-anchor="end" >4</text>
<text x="60.5" y="521.0" text-anchor="end" >6</text>
<text x="60.5" y="480.40000000000003" text-anchor="end" >8</text>
<text x="53.6" y="434.6" text-anchor="end">10</text><text x="53.6" y="426.6" font-size="13.6">1</text>
<text x="53.6" y="356.6" text-anchor="end">10</text><text x="53.6" y="348.6" font-size="13.6">2</text>
<text x="53.6" y="278.6" text-anchor="end">10</text><text x="53.6" y="270.6" font-size="13.6">3</text>
<text x="70.0" y="660.3" text-anchor="middle" >0</text>
<text x="130.2" y="660.3" text-anchor="middle" >1</text>
<text x="190.4" y="660.3" text-anchor="middle" >2</text>
<text x="250.60000000000002" y="660.3" text-anchor="middle" >3</text>
<text x="310.8" y="660.3" text-anchor="middle" >4</text>
<text x="371.0" y="660.3" text-anchor="middle" >5</text>
<text x="220.5" y="685.3" text-anchor="middle" >t / Myr</text>
<text x="385.0" y="660.3" text-anchor="middle" >0</text>
<text x="445.2" y="660.3" text-anchor="middle" >1</text>
<text x="505.4" y="660.3" text-anchor="middle" >2</text>
<text x="565.6" y="660.3" text-anchor="middle" >3</text>
<text x="625.8" y="660.3" text-anchor="middle" >4</text>
<text x="686.0" y="660.3" text-anchor="middle" >5</text>
<text x="535.5" y="685.3" text-anchor="middle" >t / Myr</text>
<rect x="317.0" y="24.5" width="48" height="29.8" fill="#fff" stroke="#000" stroke-width="0.5" stroke-opacity="0.65"/>
<text x="340.3" y="44.8" text-anchor="middle" >MC1</text>
<rect x="632.0" y="24.5" width="48" height="29.8" fill="#fff" stroke="#000" stroke-width="0.5" stroke-opacity="0.65"/>
<text x="655.3000000000001" y="44.8" text-anchor="middle" >MC2</text>
<line x1="405.2" y1="28.0" x2="450.2" y2="28.0" stroke="#0000ff" stroke-width="1.7"/>
<line x1="405.2" y1="48.3" x2="450.2" y2="48.3" stroke="#32cd32" stroke-width="1.7"/>
<line x1="405.2" y1="68.7" x2="450.2" y2="68.7" stroke="#00ffff" stroke-width="1.7"/>
<line x1="405.2" y1="89.0" x2="450.2" y2="89.0" stroke="#ff0000" stroke-width="1.7"/>
<line x1="405.2" y1="109.4" x2="450.2" y2="109.4" stroke="#ff00ff" stroke-width="1.7"/>
<text x="460.4" y="33.7">n<tspan font-size="13.6" dy="5.2">thres</tspan><tspan dy="-5.2" font-size="17">&#8203;</tspan> = 30 cm<tspan font-size="13.6" dy="-7.8">-3</tspan><tspan dy="7.8" font-size="17">&#8203;</tspan></text>
<text x="460.4" y="54.2">n<tspan font-size="13.6" dy="5.2">thres</tspan><tspan dy="-5.2" font-size="17">&#8203;</tspan> = 100 cm<tspan font-size="13.6" dy="-7.8">-3</tspan><tspan dy="7.8" font-size="17">&#8203;</tspan></text>
<text x="460.4" y="74.5">n<tspan font-size="13.6" dy="5.2">thres</tspan><tspan dy="-5.2" font-size="17">&#8203;</tspan> = 300 cm<tspan font-size="13.6" dy="-7.8">-3</tspan><tspan dy="7.8" font-size="17">&#8203;</tspan></text>
<text x="460.4" y="92.9">H<tspan font-size="13.6" dy="5.2">2</tspan><tspan dy="-5.2" font-size="17">&#8203;</tspan> threshold</text>
<text x="460.4" y="115.7">CO threshold</text>
<text transform="translate(27,166.6) rotate(-90)">M / (10<tspan font-size="13.6" dy="-8">3</tspan><tspan dy="8" font-size="17">&#8203;</tspan> M<tspan font-size="13.6" dy="5.4">sun</tspan><tspan dy="-5.4" font-size="17">&#8203;</tspan>)</text>
<text transform="translate(22.8,352.2) rotate(-90)">n / cm<tspan font-size="13.6" dy="-7.6">-3</tspan><tspan dy="7.6" font-size="17">&#8203;</tspan></text>
<line x1="10.6" y1="346.6" x2="10.6" y2="352" stroke="#000" stroke-width="0.8"/>
<text transform="translate(33.4,574) rotate(-90)">&#963; / (km s<tspan font-size="13.6" dy="-8.0">-1</tspan><tspan dy="8.0" font-size="17">&#8203;</tspan>)</text>
</g>
</svg></body></html>
